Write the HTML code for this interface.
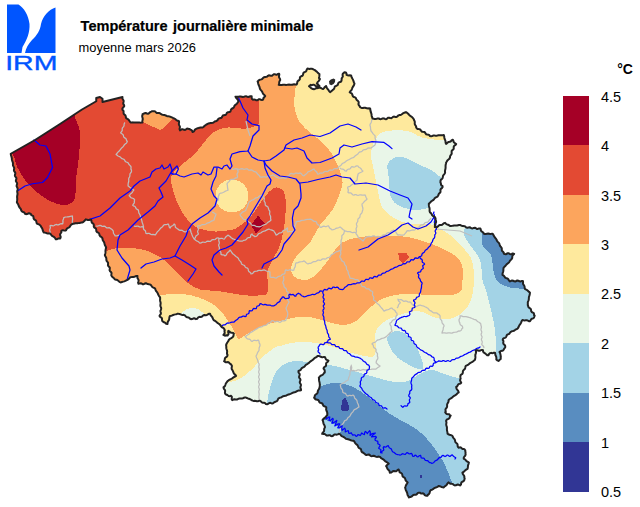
<!DOCTYPE html>
<html><head><meta charset="utf-8"><title>IRM</title>
<style>
html,body{margin:0;padding:0;background:#fff;}
body{width:640px;height:507px;overflow:hidden;position:relative;font-family:"Liberation Sans",sans-serif;}
svg text{font-family:"Liberation Sans",sans-serif;}
</style></head><body>
<svg width="640" height="507" viewBox="0 0 640 507" style="position:absolute;left:0;top:0">
<defs><clipPath id="be"><path d="M10.75,153.75 L35,140 L60,124 L82,109.5 L96.25,101.25 L96.25,98 L100,97 L102.5,98.75 L102.5,102 L122.5,97 L122.36,98.06 L122.62,99.05 L123.25,99.96 L123.69,100.92 L123.55,101.98 L123.23,103.07 L123.39,104.08 L124.11,105.03 L124.21,106.15 L123.62,107.07 L122.72,107.89 L122.33,108.86 L122.56,109.97 L123.41,110.72 L123.62,111.76 L123.53,112.94 L123.84,113.94 L124.68,114.69 L125.49,115.46 L125.8,116.45 L125.87,117.63 L126.48,118.45 L127.38,118.98 L128.3,119.48 L129,120.21 L129.54,121.11 L130.15,121.92 L131,122.59 L132.05,122.4 L133.09,122.37 L134.14,122.51 L135.18,122.61 L136.23,122.56 L137.27,122.43 L138.32,122.39 L139.36,122.5 L140.41,122.63 L141.45,122.6 L142.41,122.5 L142.31,121.41 L142.5,120.31 L142.75,119.22 L142.65,118.12 L142.28,117.03 L142.18,115.94 L142.57,114.84 L142.54,114.17 L143.59,113.81 L144.61,113.17 L145.67,113.02 L146.8,113.48 L147.91,113.74 L148.94,113.25 L149.65,112.69 L150.33,111.95 L151.43,111.59 L151.82,111.25 L152.9,111.33 L154.08,111.13 L155.09,111.39 L155.9,112.2 L156.75,112.93 L157.8,113.09 L158.93,113.01 L159.95,113.26 L160.82,113.93 L161.7,114.55 L162.71,114.81 L163.78,114.88 L164.78,115.08 L165.71,115.52 L166.63,115.97 L167.61,116.23 L168.62,116.36 L169.62,116.55 L170.57,116.89 L171.51,117.29 L172.45,117.59 L173.39,118.04 L174.35,118.47 L175.22,119.03 L176.03,119.71 L176.87,120.33 L177.84,120.74 L178.96,121.22 L179.08,122.32 L178.9,123.46 L178.91,124.58 L179.4,125.62 L179.91,126.66 L179.87,127.79 L179.5,128.95 L180.05,130.39 L180.99,129.77 L181.94,129.24 L182.97,129.36 L184.04,129.83 L185.07,129.9 L186.01,129.3 L186.94,128.64 L187.95,128.6 L189.02,129.06 L189.59,129.06 L190.48,129.67 L191.53,130.16 L192.19,130.94 L192.53,132.04 L193.58,131.64 L194.27,130.8 L194.85,129.82 L195.67,129.13 L196.69,128.7 L197.52,128.23 L198.51,128 L199.49,127.68 L200.48,127.54 L201.5,127.59 L202.57,127.59 L203.39,126.94 L204.14,126.21 L204.93,125.54 L205.82,124.98 L206.73,124.45 L207.52,123.85 L208.53,123.49 L209.55,123.18 L210.62,123.08 L211.7,123.09 L212.74,122.89 L213.7,122.42 L214.44,121.66 L215.4,121.23 L216.48,120.96 L217.36,120.4 L217.97,119.46 L218.63,118.58 L219.63,118.19 L220.8,118.06 L221.71,117.55 L222.26,116.52 L222.86,115.55 L223.85,115.16 L225.07,115.09 L226.02,114.63 L226.57,113.61 L227.15,112.61 L228.11,112.17 L229.3,112.06 L230.35,111.56 L230.72,110.52 L231.06,109.46 L231.8,108.75 L232.79,108.26 L233.62,107.63 L234.12,106.7 L234.55,105.73 L235.22,104.95 L236.08,104.35 L236.87,103.68 L237.47,102.85 L238.01,101.96 L238.64,101.33 L238.1,100.35 L237.54,99.39 L236.84,98.52 L236.08,97.7 L235.5,96.65 L236.55,96.77 L237.6,96.86 L238.65,96.76 L239.7,96.54 L240.75,96.48 L241.8,96.7 L242.85,96.9 L243.9,96.75 L244.95,96.37 L245.99,96.26 L247.05,96.62 L248.11,96.97 L249.15,96.76 L250.19,96.2 L251.66,96.29 L251.66,97.75 L251.97,99.06 L252.99,99.82 L253.97,99.4 L254.99,99.67 L256.02,100.22 L257.02,100.3 L258,99.76 L258.98,99.24 L259.98,99.31 L261.01,99.78 L262.02,99.99 L263.13,99.58 L263.38,98.24 L264.2,97.25 L265.21,96.11 L264.62,95.3 L263.84,94.62 L263.16,93.87 L262.7,92.97 L262.31,92.03 L261.78,91.17 L261.12,90.41 L260.47,89.64 L259.92,88.78 L259.69,87.66 L259.39,86.57 L258.93,85.54 L258.45,84.5 L258.15,83.41 L257.98,82.28 L257.58,81.38 L258.41,80.65 L259.27,79.98 L260.3,79.61 L261.41,79.38 L262.34,78.83 L263.08,77.93 L263.92,77.21 L265.04,77 L266.09,76.92 L267.05,76.62 L267.92,75.87 L268.83,75.35 L269.89,75.49 L270.99,75.85 L271.99,75.71 L272.85,74.97 L273.74,74.3 L274.76,74.27 L275.86,74.64 L276.89,74.67 L277.79,74.07 L279.13,73.67 L279.31,74.72 L279.03,75.86 L279,76.95 L279.48,77.94 L280.05,78.91 L280.22,80.06 L279.67,80.98 L279.28,81.94 L279.17,82.98 L279.13,84.03 L278.75,84.86 L279.78,84.99 L280.81,85.07 L281.84,84.97 L282.87,84.81 L283.89,84.75 L284.93,84.82 L285.96,84.91 L286.99,84.85 L288.01,84.67 L289.04,84.54 L290.07,84.63 L291.11,84.83 L292.14,84.81 L293.16,84.51 L294.18,84.26 L295.22,84.4 L296.48,84.63 L297.08,83.74 L297.24,82.6 L297.47,81.49 L298.24,80.7 L299.26,80.05 L299.84,79.14 L299.88,77.91 L300.24,76.83 L301.2,76.22 L302.35,75.78 L303.01,74.94 L303.2,73.72 L303.61,72.65 L304.59,72.11 L305.7,71.67 L306.37,70.84 L306.69,69.7 L307.43,68.6 L308.48,68.71 L309.54,68.93 L310.41,68.76 L311.65,68.79 L312.83,69.02 L313.87,69.63 L314.87,70.13 L315.8,70.87 L316.75,71.58 L317.55,72.44 L318.45,73.32 L319.42,73.99 L319.41,75 L319.37,76.01 L319.17,77.01 L318.93,78.07 L319.92,78.94 L319.36,80.08 L318.64,81.09 L317.58,82.15 L316.88,83.6 L318.05,84.32 L318.83,85.36 L319.57,86.17 L318.45,85.93 L317.2,86.24 L316.02,86.21 L315.01,85.44 L313.99,84.73 L312.78,84.85 L311.52,85.22 L310.79,84.69 L309.04,86.27 L310.26,87.24 L311.06,88.02 L312.01,88.54 L312.95,89.12 L313.96,89.21 L314.97,88.91 L315.88,88.29 L316.96,88.15 L318.08,88.09 L318.92,87.7 L320.02,87.81 L321.07,88.06 L322.02,88.57 L323.09,89.09 L323.83,88.33 L324.47,87.47 L325.17,86.67 L326.03,85.99 L326.42,87.04 L326.93,88.04 L327.55,88.96 L328.43,89.92 L329.11,91.05 L330.08,92.16 L330.98,91.46 L331.8,90.85 L332.51,90.13 L333.37,89.53 L334.05,88.79 L334.4,87.8 L334.74,86.74 L335.51,86.08 L336.56,85.71 L337.48,85.2 L337.96,84.25 L338.29,83.14 L338.96,82.39 L340.06,82.05 L341.09,81.5 L341.53,80.49 L341.61,79.46 L341.67,78.32 L342.42,77.27 L342.88,76.18 L342.55,75.03 L342.8,73.76 L343.69,72.91 L344.39,72.32 L345.91,72.52 L346.54,73.69 L346.51,74.9 L347.6,75.32 L348.73,75.4 L349.88,75.29 L351.14,75.44 L351.48,76.63 L351.89,77.8 L352.49,78.88 L353.1,79.96 L353.52,81.16 L353.89,82.38 L354.45,83.48 L354.13,84.72 L353.58,85.87 L352.84,86.9 L352.25,87.91 L351.94,89.09 L351.45,90.15 L350.52,90.95 L349.7,92.24 L350.59,92.89 L351.63,93.43 L352.28,94.28 L352.51,95.46 L352.93,96.49 L353.93,97.08 L355.2,97.37 L355.95,98.26 L356.38,99.54 L357.06,100.15 L358.02,101.02 L358.71,101.98 L358.64,103.19 L358.5,104.43 L359.04,105.44 L359.91,106.34 L360.03,107.16 L361,107.65 L361.97,108.02 L362.98,107.98 L364.01,107.76 L365.02,107.76 L366,108.06 L366.98,108.36 L367.99,108.44 L369,108.37 L370.13,108.47 L370.3,109.51 L370.42,110.57 L370.65,111.6 L371.02,112.6 L371.36,113.6 L371.56,114.64 L371.66,115.7 L371.86,116.73 L372.27,117.72 L372.5,118.55 L373.54,118.63 L374.58,118.92 L375.62,119.02 L376.65,118.75 L377.69,118.41 L378.73,118.51 L379.77,118.97 L380.81,119.18 L381.85,118.81 L382.88,118.31 L383.92,118.38 L384.96,118.97 L386.11,119.27 L387.07,118.63 L387.99,117.83 L389.05,117.68 L390.23,118.07 L391.34,118.13 L392.29,117.46 L393.22,116.72 L394.29,116.61 L395.46,116.92 L396.54,116.88 L397.52,116.28 L398.3,115.48 L399.29,115.11 L400.4,114.96 L401.39,114.59 L402.23,113.91 L403.08,113.25 L404.06,112.83 L405.09,112.54 L405.91,112.11 L406.76,112.69 L407.62,113.27 L408.38,113.96 L409.08,114.73 L409.8,115.46 L410.62,116.08 L411.49,116.65 L412.28,117.3 L412.96,118.09 L413.57,118.8 L413.89,119.75 L414.38,120.66 L414.75,121.6 L414.79,122.63 L414.73,123.68 L414.98,124.65 L415.6,125.53 L416.15,126.43 L416.11,127.32 L416.71,128.29 L417.51,128.95 L418.63,129.09 L419.76,129.2 L420.56,129.86 L421.11,130.91 L421.84,131.68 L422.94,131.85 L424.11,131.89 L424.97,132.45 L425.55,133.47 L426.24,134.31 L427.27,134.58 L428.42,134.66 L429.33,135.13 L430,136.03 L431.08,136.29 L432.13,136.03 L433.16,135.56 L434.21,135.43 L435.29,135.64 L436.36,135.76 L437.41,135.56 L438.45,135.27 L439.51,135.17 L440.58,135.24 L441.64,135.27 L442.7,135.14 L443.82,134.98 L444.1,135.95 L444.26,136.94 L444.39,137.94 L444.65,138.91 L445.05,139.85 L445.42,140.79 L445.57,141.79 L445.6,142.82 L446.11,143.94 L446.91,143.18 L447.7,142.41 L448.71,142.01 L449.85,141.84 L450.82,141.38 L451.53,140.46 L452.85,139.7 L453.39,140.87 L453.75,142.2 L454.78,142.95 L456.17,143.97 L455.66,144.84 L454.67,145.46 L453.87,146.18 L453.69,147.22 L453.75,148.38 L453.39,149.33 L452.5,150 L451.71,150.93 L451.6,152.08 L451.73,153.31 L451.36,154.38 L450.58,155.31 L450.06,156.33 L449.99,157.49 L449.52,158.48 L448.77,159.25 L447.91,159.93 L447.21,160.73 L446.67,161.67 L446.13,162.51 L445.98,163.51 L445.75,164.49 L445.59,165.49 L445.57,166.5 L445.59,167.51 L445.51,168.51 L445.28,169.5 L445.05,170.49 L445,171.49 L445.1,172.55 L444.74,173.51 L444.12,174.33 L443.42,175.12 L442.97,176.03 L442.83,177.1 L442.6,178.12 L441.95,178.93 L441.09,179.63 L440.54,180.5 L440.49,181.61 L440.39,182.22 L440.86,183.21 L440.97,184.45 L441.47,185.42 L442.55,186.02 L442.58,187.21 L441.89,188.1 L440.89,188.85 L440.41,189.83 L440.53,191.05 L440.45,192.19 L439.72,193.06 L438.84,193.86 L438.54,194.76 L438.06,195.76 L437.44,196.6 L436.52,197.11 L435.54,197.54 L434.75,198.19 L434.15,199.05 L433.49,199.86 L432.66,200.46 L431.77,200.99 L430.97,201.63 L430.28,202.39 L429.59,203.15 L428.83,203.74 L428.86,204.85 L428.95,205.95 L429.21,207.03 L429.5,208.11 L429.62,209.21 L429.57,210.33 L429.66,211.43 L430.03,212.47 L430.94,213.1 L431.58,213.99 L432.06,215.02 L432.79,215.83 L433.84,216.32 L434.8,216.9 L435.33,217.89 L435.59,218.7 L435.52,219.8 L436,220.97 L436.14,222.09 L435.51,223.13 L434.85,224.16 L434.96,225.28 L435.49,226.45 L434.81,227.07 L436.05,227.15 L437.21,227.06 L438.06,226.29 L438.85,225.36 L439.87,224.95 L441.07,224.95 L442.15,224.68 L443.01,223.93 L443.89,223.2 L445.08,222.86 L445.92,223.73 L446.91,224.35 L448.03,224.75 L449.08,225.27 L450,226 L451.01,226.01 L452.01,225.88 L453,225.66 L453.99,225.49 L455,225.46 L456.01,225.49 L457.01,225.42 L458,225.19 L458.98,224.94 L460.04,224.89 L461.03,225.49 L462.07,225.93 L463.23,226.02 L464.39,226.13 L465.39,226.7 L466.32,227.47 L467.47,227.78 L468.56,227.39 L469.63,227.25 L470.63,227.74 L471.62,228.37 L472.67,228.4 L473.77,227.9 L474.85,227.69 L475.85,228.21 L476.83,228.9 L477.88,228.96 L478.98,228.46 L480.41,228.44 L480.75,229.49 L480.95,230.64 L481.58,231.47 L482.59,232.02 L483.44,232.68 L483.75,233.6 L484.84,234 L485.94,233.99 L487.03,233.66 L488.12,233.52 L489.22,233.71 L490.31,233.91 L491.41,233.86 L492.56,233.71 L493.18,234.55 L493.67,235.47 L494.15,236.4 L494.74,237.26 L495.42,238.05 L496.06,238.87 L496.57,239.79 L497.01,240.74 L497.58,241.61 L498.32,242.37 L499.03,243.15 L499.5,244.08 L499.81,245.08 L500.17,246.08 L500.9,246.92 L501.59,247.77 L501.82,248.83 L501.79,249.99 L502.13,250.99 L503.01,251.77 L503.79,252.58 L503.75,253.53 L504.75,254.12 L505.75,254.26 L506.75,253.76 L507.75,253.24 L508.75,253.36 L509.75,253.96 L510.75,254.28 L511.75,253.93 L512.75,253.39 L514.14,253.92 L513.21,254.75 L512.45,255.67 L512.29,256.84 L512.2,258.04 L511.64,259.04 L510.87,259.88 L510.11,260.59 L509.55,261.5 L508.96,262.38 L508.18,263.07 L507.32,263.69 L506.56,264.41 L505.92,265.24 L505.27,266.07 L504.53,266.8 L503.7,267.49 L503.46,268.55 L503.38,269.64 L503.34,270.74 L503.13,271.8 L502.75,272.84 L502.49,273.9 L502.51,274.99 L503.49,275.47 L504.26,276.21 L504.87,277.17 L505.63,277.93 L506.69,278.3 L507.76,278.68 L508.47,279.5 L508.96,280.59 L510,281.45 L511.04,280.94 L512.08,280.48 L513.12,280.71 L514.17,281.34 L515.21,281.52 L516.25,281 L517.29,280.49 L518.33,280.67 L519.38,281.28 L520.42,281.48 L521.46,281.05 L522.89,280.88 L523.1,281.88 L522.98,282.98 L523.09,284.02 L523.65,284.91 L524.28,285.77 L524.6,286.74 L524.65,287.79 L524.87,288.92 L525.78,289.45 L526.73,289.92 L527.58,290.52 L528.33,291.25 L529.1,291.97 L529.93,292.49 L529.85,293.55 L529.69,294.6 L529.38,295.63 L529.05,296.64 L528.87,297.69 L528.84,298.77 L528.72,299.83 L528.33,300.83 L527.9,301.83 L527.76,302.89 L527.88,303.99 L527.76,304.82 L528.09,305.84 L528.35,306.9 L528.99,307.7 L529.98,308.27 L530.77,308.96 L531.06,310.01 L531.19,311.16 L531.76,312.01 L532.81,312.54 L533.72,313.15 L534.05,314.17 L534.11,315.37 L534.65,315.65 L534.3,316.72 L533.92,317.77 L533.09,318.38 L531.99,318.7 L531.11,319.25 L530.63,320.2 L529.96,321.32 L528.89,321.15 L527.87,320.6 L526.83,320.27 L525.72,320.37 L524.62,320.49 L523.55,320.3 L522.43,319.96 L521.86,320.79 L521.46,321.73 L521.09,322.68 L520.59,323.55 L519.98,324.37 L519.41,325.2 L518.95,326.09 L518.56,327.03 L518.11,327.94 L517.51,328.77 L516.5,329.09 L515.57,329.57 L514.73,330.23 L513.85,330.83 L512.84,331.14 L511.76,331.34 L510.83,331.81 L510.09,332.59 L509.52,333.52 L508.57,334.07 L507.49,334.49 L506.74,335.24 L506.38,336.38 L505.86,337.36 L504.84,337.84 L503.68,338.18 L502.95,338.95 L502.69,339.93 L503.38,340.77 L503.39,341.86 L503.2,343.03 L503.53,344.01 L504.4,344.78 L505.12,345.61 L505.25,346.66 L505.2,347.5 L504.28,348.38 L503.74,349.64 L502.82,350.65 L501.59,350.84 L500.46,351.25 L499.51,352 L500.11,353.1 L500.39,354.33 L500.67,355.49 L500.68,356.66 L500.76,357.84 L500.65,359.06 L499.49,359.93 L498.53,360.95 L497.38,360.35 L496.31,359.51 L496.4,358.32 L496.31,357.15 L495.9,356.03 L495.4,355.09 L495.28,354.02 L495.02,352.7 L494.02,352.64 L492.99,352.97 L491.97,353.2 L491.14,352.85 L489.91,353.19 L489.06,353.94 L488.44,355.21 L487.19,355.16 L486.19,354.25 L485.48,353.73 L484.65,353.02 L483.63,352.41 L483.1,351.52 L483,350.3 L482,349.91 L481,350.14 L480,350.66 L479,350.82 L478,350.46 L477,350.08 L475.73,350.37 L475.99,351.48 L476.05,352.56 L475.73,353.61 L475.37,354.65 L475.3,355.72 L475.4,356.81 L475.37,357.88 L475.14,358.94 L474.94,359.91 L474.06,360.53 L473.23,361.24 L472.36,361.89 L471.4,362.41 L470.43,362.9 L469.55,363.53 L468.76,364.28 L467.9,364.95 L466.89,365.39 L465.79,365.89 L465.38,366.89 L465.19,368.02 L464.77,369.02 L463.94,369.8 L463.14,370.6 L462.85,371.67 L462.82,372.88 L462.36,373.85 L461.36,374.55 L460.53,375.34 L460.37,376.48 L460.45,377.41 L460.63,378.41 L460.25,379.53 L460.07,380.61 L460.58,381.54 L461.24,382.77 L460.46,383.57 L459.24,383.9 L458.2,384.41 L457.61,385.44 L457.07,386.51 L456.2,386.9 L456.31,387.99 L456.66,388.96 L457.33,389.77 L458.02,390.58 L458.44,391.51 L458.71,392.45 L457.82,392.99 L457.05,393.71 L456.31,394.46 L455.48,395.08 L454.57,395.61 L453.68,396.16 L452.89,396.84 L452.13,397.57 L451.32,398.22 L450.41,398.74 L449.49,399.25 L448.66,399.97 L448.58,401 L448.39,401.99 L447.92,402.89 L447.35,403.77 L447.07,404.74 L447.12,405.8 L447.1,406.84 L446.62,407.75 L445.87,408.57 L445.45,409.49 L445.56,410.57 L445.73,411.67 L445.19,412.18 L445.85,413.34 L446.74,414.11 L448.05,414.16 L449.28,414.36 L450.06,415.32 L450.66,415.66 L450.03,416.46 L449.71,417.57 L449.19,418.48 L448.25,418.96 L447.2,419.35 L446.47,420.04 L446.04,421 L446.45,422.02 L446.39,423.11 L446.19,424.21 L446.29,425.27 L446.66,426.31 L446.93,427.35 L446.94,428.43 L446.9,429.51 L447.02,430.58 L447.28,431.62 L447.49,432.67 L447.52,433.71 L448.46,434.28 L449.46,434.74 L450.52,435.05 L451.56,435.41 L452.52,435.99 L452.83,436.97 L453.31,437.85 L454,438.62 L454.67,439.41 L455.03,440.36 L455.19,441.42 L455.56,442.36 L456.33,443.08 L457.17,443.77 L457.59,444.69 L457.62,445.82 L457.83,446.85 L458.71,447.67 L459.85,447.35 L460.86,447.55 L461.73,448.34 L462.62,449.03 L463.52,448.89 L464.64,449.49 L465.27,450.39 L465.34,451.62 L465.54,452.33 L465.49,453.49 L465.6,454.71 L465.16,455.73 L464.33,456.61 L463.81,457.59 L463.74,458.76 L464.74,459.17 L465.51,459.87 L466.18,460.72 L466.97,461.4 L467.9,461.89 L468.88,462.53 L468.64,463.56 L468.28,464.57 L468.01,465.6 L467.9,466.66 L467.81,467.73 L467.55,468.82 L466.63,469.33 L465.75,469.89 L464.98,470.6 L464.26,471.37 L463.43,472 L462.43,472.53 L462.67,473.64 L463.3,474.6 L464.03,475.51 L464.36,476.59 L464.34,477.81 L464.7,478.51 L464.41,479.56 L464.11,480.6 L463.37,481.29 L462.3,481.72 L461.46,482.33 L461.14,483.35 L460.97,484.49 L460,485.47 L458.96,484.89 L457.92,484.46 L456.88,484.76 L455.83,485.36 L454.79,485.45 L453.77,484.96 L452.95,484.1 L451.82,483.86 L450.61,483.78 L449.63,483.25 L448.65,482.4 L447.83,483.01 L447.27,483.87 L446.74,484.77 L446.02,485.48 L445.16,486.05 L444.35,486.67 L443.77,487.42 L442.73,487.27 L441.72,487.01 L440.75,486.6 L439.78,486.2 L438.72,485.94 L437.81,486.56 L436.87,487.11 L435.84,487.49 L434.8,487.85 L433.86,488.42 L433.01,489.14 L432.07,489.69 L430.95,489.97 L430.15,490.84 L429.78,491.97 L429.56,493.18 L428.86,494.11 L427.81,494.84 L427.67,495.65 L426.51,495.68 L425.41,495.59 L424.59,494.89 L423.91,493.9 L423.02,493.37 L421.85,493.43 L420.71,493.42 L420.12,492.77 L418.93,492.63 L417.92,492.88 L417.17,493.72 L416.43,494.56 L415.44,494.87 L414.3,494.84 L413.28,495.06 L412.46,495.74 L411.67,496.5 L410.73,496.9 L409.66,497.03 L408.98,497.41 L408.46,496.47 L407.87,495.55 L407.49,494.55 L407.28,493.49 L407,492.45 L406.54,491.48 L406.04,490.53 L405.66,489.53 L405.4,488.49 L405.11,487.55 L405.53,486.52 L405.88,485.44 L406.4,484.45 L407.09,483.55 L407.67,482.38 L406.93,481.66 L406.12,480.98 L405.57,480.12 L405.28,479.09 L404.89,478.12 L404.1,477.43 L403.14,476.86 L402.51,476.06 L402.32,474.95 L402.07,473.89 L401.31,473.18 L400.24,472.68 L399.49,471.96 L399.3,470.86 L398.61,469.52 L397.67,469.89 L396.86,470.75 L395.98,471.34 L394.91,471.29 L393.79,471.03 L392.8,471.26 L391.96,471.98 L391.09,472.62 L389.79,472.63 L389.62,471.46 L389.12,470.48 L388.26,469.73 L387.49,468.92 L387.05,467.91 L386.7,466.85 L386.1,466.12 L386.88,465.2 L387.75,464.39 L388.75,463.75 L388.02,463.05 L387.2,462.47 L386.33,461.95 L385.5,461.39 L384.75,460.71 L384.04,459.98 L383.26,459.35 L382.37,458.86 L381.48,458.37 L380.72,457.71 L380.02,456.87 L378.96,456.6 L377.86,456.71 L376.74,456.89 L375.69,456.63 L374.68,456.03 L373.62,455.75 L372.49,456.05 L371.41,456.2 L370.48,455.79 L369.65,454.99 L368.74,454.49 L367.67,454.64 L366.55,454.94 L365.58,454.69 L364.75,453.89 L364.18,453.43 L363.33,452.76 L362.22,452.29 L361.51,451.52 L361.27,450.4 L360.97,449.32 L360.19,448.6 L359.11,448.05 L358.36,447.23 L357.96,446.13 L357.45,445.12 L356.59,444.39 L355.69,443.7 L355.02,442.82 L354.5,441.81 L353.79,440.86 L352.79,440.7 L351.78,440.54 L350.82,440.24 L349.88,439.85 L348.94,439.49 L347.95,439.26 L346.95,439.11 L345.93,438.85 L345.1,438.12 L344.28,437.36 L343.33,436.8 L342.28,436.39 L341.35,435.8 L340.61,434.93 L339.84,434.11 L338.73,433.68 L337.87,434.34 L336.91,434.64 L335.82,434.5 L334.75,434.43 L333.84,434.93 L333.03,435.74 L332.11,436.2 L330.99,436.04 L330.05,435.25 L328.95,435.19 L327.73,435.58 L326.64,435.49 L325.7,434.69 L324.74,434 L323.61,434.04 L322.16,433.87 L322.59,432.79 L323.51,431.9 L324.1,430.88 L324.14,429.66 L324.29,428.47 L324.92,427.53 L324.85,426.36 L324.43,425.31 L323.83,424.32 L323.42,423.26 L323.23,422.14 L322.98,421.03 L322.53,420.03 L323.16,419.23 L323.86,418.5 L324.65,417.86 L325.44,417.22 L326.13,416.48 L326.73,415.66 L327.34,415.03 L327.27,413.93 L327.26,412.82 L327,411.76 L326.49,410.75 L326.15,409.7 L326.24,408.57 L326.24,407.23 L325.32,406.64 L324.18,406.29 L323.32,405.63 L322.85,404.53 L322.31,403.51 L321.29,403.03 L320.07,402.77 L319.26,402.05 L318.86,400.84 L318.23,399.97 L317.2,399.67 L316.02,399.57 L315.15,399.05 L314.61,398.04 L314.13,397.78 L314.58,396.82 L314.79,395.68 L315.31,394.77 L316.24,394.16 L317.13,393.53 L317.69,392.57 L317.75,391.35 L318.13,390.25 L318.81,389.27 L319.34,388.23 L319.6,387.09 L319.87,386.02 L319.77,384.95 L319.76,383.86 L319.63,382.8 L319.37,381.75 L319.11,380.7 L319,379.63 L319,378.55 L318.84,377.61 L319.52,376.87 L320.2,376.11 L321.01,375.52 L321.95,375.09 L322.83,374.59 L323.49,373.82 L324.06,372.92 L324.7,372.6 L324.77,371.19 L324.53,369.88 L323.56,368.64 L323.86,367.55 L324.8,366.81 L325.79,366.09 L326.12,365.01 L326.08,363.72 L326.51,362.71 L327.58,362.03 L328.41,360.65 L327.34,360.05 L326.15,359.55 L325.53,358.56 L325.06,357.2 L324,356.91 L322.84,357.14 L321.71,357.21 L320.69,356.76 L319.69,356.19 L318.61,356.01 L317.55,356.07 L316.81,356.81 L315.89,357.33 L314.96,357.83 L314.14,358.48 L313.41,359.24 L312.64,359.95 L311.78,360.53 L310.88,361.08 L310.05,361.71 L309.3,362.44 L308.54,363.17 L307.69,363.77 L306.75,364.27 L305.89,364.87 L305.2,365.68 L304.54,366.51 L303.68,367.12 L302.66,367.53 L301.77,368.09 L301.16,369 L300.6,369.95 L299.72,370.54 L298.51,371.03 L298.43,372.06 L298.94,373.01 L299.6,373.94 L299.73,374.94 L299.3,376.02 L299.04,377.07 L299.47,378.04 L300.22,378.95 L300.51,379.95 L300.12,381 L299.73,382.05 L299.94,383.04 L300.58,383.98 L300.96,384.95 L300.75,385.98 L300.4,387.03 L300.46,388.03 L300.92,389 L301.08,390.29 L299.87,390.45 L298.61,390.47 L297.45,390.87 L296.54,391.49 L295.56,391.95 L294.5,392.2 L293.45,392.49 L292.48,392.94 L291.53,393.46 L290.54,393.9 L289.5,394.19 L288.46,394.49 L287.48,394.94 L286.46,395.46 L285.4,395.85 L284.26,396 L283.14,396.21 L282.14,396.76 L281.16,397.41 L280.12,397.62 L279.14,398.06 L278.31,398.66 L277.83,399.61 L277.42,400.63 L276.68,401.32 L275.6,401.67 L274.92,402 L273.97,402.47 L273.06,403.21 L272.08,403.49 L270.99,403.13 L269.91,402.82 L268.94,403.17 L268.04,403.93 L267.09,404.34 L265.95,404.09 L265.2,403.11 L264.13,402.73 L262.89,402.73 L261.83,402.33 L261.02,401.46 L260,400.67 L258.96,400.87 L257.92,401.19 L256.88,401.22 L255.83,400.97 L254.79,400.81 L253.79,400.92 L252.74,400.65 L251.76,400.24 L250.85,399.68 L249.92,399.15 L248.93,398.76 L247.91,398.44 L246.92,398.04 L246,397.49 L244.94,397.55 L243.91,397.8 L242.91,398.2 L241.88,398.46 L240.8,398.44 L239.72,398.4 L238.7,398.69 L237.73,399.25 L236.72,399.56 L235.61,399.4 L234.5,399.21 L233.49,399.56 L232.22,400.1 L231.69,399.16 L231.78,397.99 L231.86,396.82 L231.06,395.72 L229.93,396.13 L228.9,396.12 L227.99,395.43 L227.1,394.72 L226.36,394.89 L225.43,394 L224.91,392.99 L225.06,391.78 L225.12,390.59 L224.56,389.59 L223.79,388.65 L223.51,387.36 L224.38,386.62 L225.06,385.78 L225.41,384.75 L225.73,383.69 L226.3,382.79 L227.02,381.96 L227.57,381.13 L228.45,380.46 L229.33,379.8 L230.3,379.27 L231.31,378.83 L232.28,378.31 L233.16,377.66 L234.05,377 L235.02,376.49 L236.1,375.93 L235.56,375.07 L234.82,374.34 L234.06,373.64 L233.53,372.76 L233.22,371.74 L232.82,370.93 L232.33,369.95 L231.72,369 L231.57,367.95 L231.85,366.81 L231.89,365.73 L231.28,364.77 L230.83,364.19 L229.84,363.68 L229.04,362.68 L228.08,362.09 L226.84,362.22 L225.63,362.29 L224.71,361.6 L224.09,361.21 L224.66,360.38 L224.77,359.25 L224.98,358.19 L225.68,357.44 L226.62,356.83 L227.28,356.05 L227.55,354.99 L227.08,354.04 L226.98,353.03 L227.12,351.99 L227.12,350.97 L226.84,349.99 L226.48,349.02 L226.31,348.02 L226.3,347 L226.27,345.98 L226.07,345.04 L226.49,343.97 L227.01,342.95 L227.67,342.01 L228.31,341.06 L228.77,340.03 L229.5,339.23 L230.33,338.56 L231.3,338.06 L232.23,337.51 L232.95,336.71 L233.49,336 L233.53,334.88 L233.85,333.58 L232.93,332.88 L231.72,332.7 L230.53,332.5 L229.68,331.67 L228.32,330.89 L228.12,331.9 L228.44,333.05 L228.53,334.13 L227.92,335.04 L227.61,335.59 L226.34,335.32 L224.9,335.71 L223.4,334.91 L224.2,334.05 L224.71,333.11 L224.61,332.03 L224.42,330.92 L224.77,330.23 L224.3,329.13 L223.67,328.21 L222.69,327.62 L221.71,327.04 L220.99,326.2 L220.39,325.23 L219.65,324.42 L218.74,323.76 L217.84,323.23 L217.04,322.55 L216.29,321.82 L215.48,321.17 L214.58,320.62 L213.66,320.06 L213.15,319.15 L212.74,318.18 L212.27,317.24 L211.63,316.42 L210.92,315.63 L210.4,314.73 L209.97,313.65 L208.85,313.8 L207.85,314.37 L206.88,315.04 L205.77,315.23 L204.56,315.08 L203.46,315.31 L202.55,316.12 L201.76,316.85 L200.73,317 L199.58,316.85 L198.59,317.11 L197.85,317.95 L197.13,318.82 L196,319.13 L195,318.53 L194,318.22 L193,318.57 L192,319.12 L191,319.19 L190.01,318.73 L189.32,317.86 L188.33,317.48 L187.21,317.33 L186.26,316.89 L185.53,316.09 L184.78,315.31 L183.78,314.84 L182.69,314.9 L181.63,314.77 L180.62,314.39 L179.61,314.03 L178.56,313.87 L177.52,313.81 L176.46,314.18 L175.36,314.39 L174.25,314.61 L173.2,314.99 L172.17,315.45 L171.11,315.79 L169.94,315.98 L169.51,316.91 L169.31,317.92 L169.24,318.96 L168.97,319.95 L168.39,320.83 L167.82,321.71 L167.63,322.72 L167.43,323.97 L166.14,323.66 L165.08,322.66 L164.1,322.3 L163.08,321.65 L162.22,320.91 L162.01,319.79 L162,318.56 L161.44,317.64 L160.36,317.03 L159.47,315.91 L160.02,314.98 L160.74,314.07 L160.92,313.07 L160.58,311.99 L160.4,310.93 L160.77,310.02 L161.16,308.94 L161.18,307.89 L160.75,306.88 L160.38,305.86 L160.42,304.8 L160.63,303.74 L160.62,302.69 L160.35,301.67 L160.1,300.64 L160.07,299.59 L160.15,298.54 L160.1,297.44 L159.52,296.61 L158.92,295.8 L158.42,294.92 L158.02,293.99 L157.61,293.06 L157.06,292.22 L156.41,291.42 L155.85,290.58 L155.49,289.63 L155.13,288.59 L154.34,287.98 L153.38,287.58 L152.46,287.12 L151.79,286.36 L151.25,285.42 L150.54,284.71 L149.53,284.37 L148.75,284.17 L147.75,284.08 L146.75,283.55 L145.75,283.23 L144.75,283.56 L143.75,284.15 L142.75,284.24 L141.75,283.72 L140.75,283.23 L139.75,283.39 L138.51,283.79 L138.07,282.72 L138.39,281.54 L138.67,280.36 L138.24,279.29 L137.55,278.26 L137.36,277.16 L137.48,275.88 L136.37,275.9 L135.35,276.37 L134.33,276.86 L133.24,277.01 L132.12,276.97 L131.04,277.12 L130,277.5 L129.26,278.43 L128.36,279.2 L127.47,279.91 L126.39,280.35 L125.36,280.9 L124.29,281.35 L123.15,281.63 L122.03,281.94 L121.01,282.48 L119.96,282.11 L119.04,281.51 L118.25,280.7 L117.36,280.04 L116.26,279.75 L115.15,279.47 L114.3,278.76 L113.61,277.78 L112.86,277.38 L111.99,276.48 L111.31,275.52 L111.37,274.31 L111.55,273.06 L111,272.05 L110,271.19 L109.55,270.15 L109.77,268.97 L109.83,267.83 L109.21,266.93 L108.32,266.11 L107.93,265.13 L108.07,263.98 L108.07,262.87 L107.51,261.94 L106.76,261.08 L106.38,260.09 L106.37,258.99 L106.25,257.92 L105.78,256.96 L105.2,256.05 L104.83,254.98 L105.16,253.93 L105.43,252.88 L105.48,251.79 L105.49,250.7 L105.62,249.63 L105.88,248.58 L106.11,247.46 L105.65,246.51 L105.13,245.59 L104.71,244.63 L104.48,243.6 L104.23,242.57 L103.75,241.63 L103.11,240.76 L102.66,239.81 L102.53,238.73 L102.12,237.67 L101.32,236.91 L100.3,236.31 L99.61,235.46 L99.36,234.29 L98.99,233.21 L98.05,232.55 L96.93,232.02 L96.34,231.1 L96.23,229.88 L96.03,228.85 L95.21,228.12 L94.24,227.47 L93.79,226.56 L93.84,225.4 L93.72,224.32 L93.03,223.53 L92.1,222.86 L91.54,222 L91.45,220.91 L91.03,219.65 L90.02,219.66 L88.99,219.93 L87.97,219.99 L86.99,219.69 L85.89,219.37 L85.02,220.13 L84.3,221.06 L83.47,221.86 L82.5,222.5 L81.49,222.51 L80.49,222.68 L79.51,222.93 L78.51,223.11 L77.5,223.16 L76.49,223.15 L75.49,223.26 L74.5,223.53 L73.52,223.79 L72.57,223.83 L71.69,224.35 L70.89,224.97 L70.3,225.8 L69.79,226.72 L69.07,227.42 L68.1,227.85 L67.17,228.33 L66.58,229.16 L66.06,230.28 L65.09,230.64 L64,230.42 L62.91,230.14 L61.93,230.44 L61.23,231.03 L61.39,232.18 L60.74,233.22 L60.05,234.25 L60.15,235.39 L60.65,236.58 L60.58,237.7 L59.99,238.61 L58.97,238.35 L57.99,238.67 L57.02,239.21 L55.76,239.27 L55.17,238.22 L54.49,237.26 L53.49,236.68 L52.43,236.16 L51.61,235.37 L50.93,234.42 L50.03,233.6 L48.96,233.55 L47.89,233.46 L46.86,233.19 L45.85,232.85 L44.81,232.61 L43.74,232.5 L43.25,231.62 L42.89,230.68 L42.63,229.69 L42.33,228.72 L41.83,227.84 L41.24,226.99 L40.89,226.16 L40.16,225.39 L39.41,224.63 L38.45,224.19 L37.29,223.89 L36.63,223.03 L36.39,221.88 L36.1,220.78 L35.27,220.02 L34.21,219.42 L33.61,218.52 L33.52,217.29 L33.23,216.18 L32.28,215.51 L31.19,214.92 L31,214.14 L30,213.54 L29,213.22 L28,213.56 L27,214.11 L26,214.18 L25.01,213.73 L24.48,212.7 L23.53,212.11 L22.42,211.69 L21.61,210.95 L21.07,209.96 L20.73,208.94 L20.07,208.09 L19.36,207.26 L18.87,206.32 L18.54,205.29 L18.12,204.31 L17.54,203.42 L16.91,202.5 L16.95,201.45 L17.11,200.42 L17.24,199.38 L17.22,198.34 L17.11,197.29 L17.12,196.24 L17.32,195.21 L17.52,194.17 L17.49,193.13 L17.25,192.08 L17.2,191.03 L17.51,190 L17.69,188.96 L17.49,187.97 L16.94,187.02 L16.58,186.05 L16.75,185.02 L17.13,183.95 L17.05,182.95 L16.41,182.01 L15.86,181.06 L15.96,180.06 L16.38,178.89 L16.34,177.82 L15.6,176.88 L14.9,175.94 L14.93,174.85 L15.32,173.69 L15.24,172.62 L14.55,171.67 L13.95,170.71 L13.95,169.63 L14.2,168.49 L14.07,167.43 L13.53,166.52 L13.05,165.59 L12.93,164.59 L12.99,163.55 L12.88,162.54 L12.52,161.6 L12.13,160.65 L11.91,159.67 L11.84,158.66 L11.72,157.65 L11.46,156.68 L11.12,155.73 L10.86,154.76Z"/></clipPath></defs>
<g clip-path="url(#be)" shape-rendering="crispEdges">
<rect x="0" y="60" width="560" height="450" fill="#FEE99D"/>
<path d="M460,130 C460.00,130.00 451.25,138.25 445,139.5 C438.75,140.75 428.75,138.92 422.5,137.5 C416.25,136.08 413.33,132.08 407.5,131 C401.67,129.92 392.50,130.17 387.5,131 C382.50,131.83 380.25,132.42 377.5,136 C374.75,139.58 371.62,146.83 371,152.5 C370.38,158.17 372.46,162.92 373.75,170 C375.04,177.08 377.29,188.75 378.75,195 C380.21,201.25 379.79,203.54 382.5,207.5 C385.21,211.46 390.42,216.04 395,218.75 C399.58,221.46 404.58,222.92 410,223.75 C415.42,224.58 422.92,223.12 427.5,223.75 C432.08,224.38 433.75,225.62 437.5,227.5 C441.25,229.38 445.42,231.25 450,235 C454.58,238.75 461.25,245.42 465,250 C468.75,254.58 471.04,256.67 472.5,262.5 C473.96,268.33 474.17,278.33 473.75,285 C473.33,291.67 471.88,297.92 470,302.5 C468.12,307.08 465.83,309.79 462.5,312.5 C459.17,315.21 454.58,317.92 450,318.75 C445.42,319.58 439.58,318.62 435,317.5 C430.42,316.38 426.67,312.92 422.5,312 C418.33,311.08 415.00,311.08 410,312 C405.00,312.92 397.50,315.33 392.5,317.5 C387.50,319.67 382.92,322.08 380,325 C377.08,327.92 375.67,331.25 375,335 C374.33,338.75 376.21,344.00 376,347.5 C375.79,351.00 375.58,354.58 373.75,356 C371.92,357.42 368.96,356.58 365,356 C361.04,355.42 355.83,354.17 350,352.5 C344.17,350.83 336.25,347.67 330,346 C323.75,344.33 318.33,343.08 312.5,342.5 C306.67,341.92 300.42,341.92 295,342.5 C289.58,343.08 283.33,345.17 280,346 C276.67,346.83 277.92,345.67 275,347.5 C272.08,349.33 266.25,353.46 262.5,357 C258.75,360.54 256.25,365.12 252.5,368.75 C248.75,372.38 244.58,376.25 240,378.75 C235.42,381.25 229.17,381.88 225,383.75 C220.83,385.62 215.00,390.00 215,390 L215,520 L560,520 L560,130 L460,130Z" fill="#E9F6E8"/>
<path d="M181,314 C181.00,314.00 184.75,309.62 187.5,308.75 C190.25,307.88 194.58,307.71 197.5,308.75 C200.42,309.79 205.00,315.00 205,315 L205,322 L181,322 L181,314Z" fill="#E9F6E8"/>
<path d="M387.5,165 C388.12,161.88 390.00,160.08 392.5,158.75 C395.00,157.42 398.33,156.17 402.5,157 C406.67,157.83 412.50,161.42 417.5,163.75 C422.50,166.08 428.58,168.71 432.5,171 C436.42,173.29 438.08,175.67 441,177.5 C443.92,179.33 450.00,182.00 450,182 L450,200 C450.00,200.00 435.83,205.83 430,207.5 C424.17,209.17 420.00,210.25 415,210 C410.00,209.75 404.00,208.08 400,206 C396.00,203.92 392.88,202.25 391,197.5 C389.12,192.75 389.33,182.92 388.75,177.5 C388.17,172.08 386.88,168.12 387.5,165Z" fill="#A3D3E6"/>
<path d="M467,222 C467.00,222.00 463.25,229.92 463.75,233.75 C464.25,237.58 467.29,240.62 470,245 C472.71,249.38 477.92,254.17 480,260 C482.08,265.83 481.50,275.00 482.5,280 C483.50,285.00 484.58,285.00 486,290 C487.42,295.00 489.50,303.33 491,310 C492.50,316.67 494.17,323.17 495,330 C495.83,336.83 495.83,345.17 496,351 C496.17,356.83 496.00,365.00 496,365 L560,365 L560,222 L467,222Z" fill="#A3D3E6"/>
<path d="M387.5,337.5 C388.33,334.75 392.08,331.62 395,331 C397.92,330.38 401.67,331.42 405,333.75 C408.33,336.08 412.50,341.46 415,345 C417.50,348.54 418.58,351.50 420,355 C421.42,358.50 423.33,363.58 423.5,366 C423.67,368.42 422.92,369.42 421,369.5 C419.08,369.58 415.92,368.50 412,366.5 C408.08,364.50 401.17,360.67 397.5,357.5 C393.83,354.33 391.67,350.83 390,347.5 C388.33,344.17 386.67,340.25 387.5,337.5Z" fill="#A3D3E6"/>
<path d="M470,380 C470.00,380.00 465.33,379.67 462,379 C458.67,378.33 454.08,377.25 450,376 C445.92,374.75 440.83,372.50 437.5,371.5 C434.17,370.50 432.92,369.62 430,370 C427.08,370.38 423.33,372.08 420,373.75 C416.67,375.42 413.33,378.54 410,380 C406.67,381.46 404.17,382.50 400,382.5 C395.83,382.50 390.42,381.25 385,380 C379.58,378.75 373.33,376.67 367.5,375 C361.67,373.33 356.25,371.67 350,370 C343.75,368.33 336.67,366.25 330,365 C323.33,363.75 315.83,363.17 310,362.5 C304.17,361.83 299.58,360.58 295,361 C290.42,361.42 285.83,362.88 282.5,365 C279.17,367.12 277.08,370.00 275,373.75 C272.92,377.50 271.25,383.12 270,387.5 C268.75,391.88 268.17,396.25 267.5,400 C266.83,403.75 266.00,410.00 266,410 L266,520 L560,520 L560,380 L470,380Z" fill="#A3D3E6"/>
<path d="M482.5,228 C482.50,228.00 481.08,240.50 482.5,245 C483.92,249.50 489.12,250.42 491,255 C492.88,259.58 492.46,267.92 493.75,272.5 C495.04,277.08 496.04,280.00 498.75,282.5 C501.46,285.00 505.83,286.46 510,287.5 C514.17,288.54 520.42,288.50 523.75,288.75 C527.08,289.00 530.00,289.00 530,289 L540,260 L500,225 L482.5,228Z" fill="#598DC0"/>
<path d="M315,388 C315.00,388.00 316.25,388.25 318.75,387.5 C321.25,386.75 325.62,384.08 330,383.5 C334.38,382.92 340.00,382.75 345,384 C350.00,385.25 355.00,387.92 360,391 C365.00,394.08 370.00,398.67 375,402.5 C380.00,406.33 385.00,410.67 390,414 C395.00,417.33 400.42,419.83 405,422.5 C409.58,425.17 413.75,427.17 417.5,430 C421.25,432.83 424.17,435.75 427.5,439.5 C430.83,443.25 434.58,448.25 437.5,452.5 C440.42,456.75 442.92,460.83 445,465 C447.08,469.17 448.75,474.38 450,477.5 C451.25,480.62 451.67,481.67 452.5,483.75 C453.33,485.83 455.00,490.00 455,490 L455,520 L300,520 L300,388 L315,388Z" fill="#598DC0"/>
<path d="M320,419 C320.00,419.00 323.71,419.21 326,420 C328.29,420.79 331.25,422.29 333.75,423.75 C336.25,425.21 339.96,427.08 341,428.75 C342.04,430.42 340.50,431.88 340,433.75 C339.50,435.62 338.00,440.00 338,440 L320,440 L320,419Z" fill="#A3D3E6"/>
<path d="M342.3,400.5 C342.72,398.55 343.33,398.80 344,398.6 C344.67,398.40 345.47,397.82 346.3,399.3 C347.13,400.78 348.80,405.58 349,407.5 C349.20,409.42 348.75,410.33 347.5,410.8 C346.25,411.27 342.37,412.02 341.5,410.3 C340.63,408.58 341.88,402.45 342.3,400.5Z" fill="#313695"/>
<path d="M420,475 L421.5,475 L421.5,477.5 L420,477.5Z" fill="#313695"/>
<path d="M296,85 C296.00,85.00 294.67,93.33 294.5,97.5 C294.33,101.67 294.08,105.83 295,110 C295.92,114.17 297.50,118.75 300,122.5 C302.50,126.25 306.25,129.17 310,132.5 C313.75,135.83 319.00,139.17 322.5,142.5 C326.00,145.83 328.50,148.75 331,152.5 C333.50,156.25 335.83,161.25 337.5,165 C339.17,168.75 340.17,172.08 341,175 C341.83,177.92 342.67,179.58 342.5,182.5 C342.33,185.42 341.67,187.92 340,192.5 C338.33,197.08 335.83,204.58 332.5,210 C329.17,215.42 323.75,219.58 320,225 C316.25,230.42 313.75,237.50 310,242.5 C306.25,247.50 300.67,250.83 297.5,255 C294.33,259.17 291.62,264.00 291,267.5 C290.38,271.00 291.83,273.92 293.75,276 C295.67,278.08 299.38,279.75 302.5,280 C305.62,280.25 309.17,279.58 312.5,277.5 C315.83,275.42 319.58,270.83 322.5,267.5 C325.42,264.17 327.92,260.42 330,257.5 C332.08,254.58 332.92,252.50 335,250 C337.08,247.50 338.75,244.58 342.5,242.5 C346.25,240.42 350.83,238.67 357.5,237.5 C364.17,236.33 374.17,235.58 382.5,235.5 C390.83,235.42 400.00,235.83 407.5,237 C415.00,238.17 421.25,240.33 427.5,242.5 C433.75,244.67 440.00,247.50 445,250 C450.00,252.50 454.58,254.58 457.5,257.5 C460.42,260.42 461.67,263.75 462.5,267.5 C463.33,271.25 462.75,276.08 462.5,280 C462.25,283.92 463.08,288.50 461,291 C458.92,293.50 456.00,294.33 450,295 C444.00,295.67 430.83,295.21 425,295 C419.17,294.79 420.00,293.75 415,293.75 C410.00,293.75 400.83,293.96 395,295 C389.17,296.04 384.58,297.50 380,300 C375.42,302.50 371.25,306.67 367.5,310 C363.75,313.33 361.25,317.50 357.5,320 C353.75,322.50 349.58,324.58 345,325 C340.42,325.42 335.42,323.75 330,322.5 C324.58,321.25 318.33,318.33 312.5,317.5 C306.67,316.67 300.42,316.92 295,317.5 C289.58,318.08 285.42,319.58 280,321 C274.58,322.42 267.92,323.88 262.5,326 C257.08,328.12 251.46,331.62 247.5,333.75 C243.54,335.88 240.83,338.96 238.75,338.75 C236.67,338.54 236.88,335.62 235,332.5 C233.12,329.38 230.42,324.17 227.5,320 C224.58,315.83 221.25,310.83 217.5,307.5 C213.75,304.17 209.58,302.08 205,300 C200.42,297.92 195.00,296.04 190,295 C185.00,293.96 179.83,293.75 175,293.75 C170.17,293.75 165.17,294.79 161,295 C156.83,295.21 150.00,295.00 150,295 L0,295 L0,60 L296,60 L296,85Z" fill="#FCA55D"/>
<ellipse cx="232" cy="196" rx="16.5" ry="16.5" fill="#FEE99D"/>
<path d="M245,128.75 C240.42,129.00 232.50,127.08 227.5,127.5 C222.50,127.92 218.58,129.17 215,131.25 C211.42,133.33 208.50,137.29 206,140 C203.50,142.71 202.04,145.00 200,147.5 C197.96,150.00 195.83,152.92 193.75,155 C191.67,157.08 190.00,157.92 187.5,160 C185.00,162.08 181.25,165.21 178.75,167.5 C176.25,169.79 173.79,171.67 172.5,173.75 C171.21,175.83 171.00,177.71 171,180 C171.00,182.29 171.67,184.17 172.5,187.5 C173.33,190.83 174.33,195.83 176,200 C177.67,204.17 180.17,208.75 182.5,212.5 C184.83,216.25 187.08,219.79 190,222.5 C192.92,225.21 195.83,227.25 200,228.75 C204.17,230.25 210.00,231.29 215,231.5 C220.00,231.71 226.25,230.67 230,230 C233.75,229.33 234.17,229.58 237.5,227.5 C240.83,225.42 245.83,222.08 250,217.5 C254.17,212.92 259.17,204.42 262.5,200 C265.83,195.58 267.50,193.08 270,191 C272.50,188.92 275.00,186.83 277.5,187.5 C280.00,188.17 283.75,189.58 285,195 C286.25,200.42 285.83,211.67 285,220 C284.17,228.33 282.08,238.33 280,245 C277.92,251.67 274.58,255.42 272.5,260 C270.42,264.58 268.33,267.08 267.5,272.5 C266.67,277.92 269.17,288.67 267.5,292.5 C265.83,296.33 261.67,295.08 257.5,295.5 C253.33,295.92 249.17,295.75 242.5,295 C235.83,294.25 224.58,291.92 217.5,291 C210.42,290.08 205.00,290.92 200,289.5 C195.00,288.08 191.67,285.75 187.5,282.5 C183.33,279.25 179.17,273.96 175,270 C170.83,266.04 167.08,261.92 162.5,258.75 C157.92,255.58 152.50,252.79 147.5,251 C142.50,249.21 137.50,248.50 132.5,248 C127.50,247.50 121.92,247.50 117.5,248 C113.08,248.50 108.92,250.33 106,251 C103.08,251.67 100.00,252.00 100,252 L0,252 L0,60 L250,60 L250,92 L258.75,92 C258.75,92.00 259.38,116.83 258.75,122.5 C258.12,128.17 257.29,124.96 255,126 C252.71,127.04 249.58,128.50 245,128.75Z" fill="#E34A33"/>
<path d="M143.75,122.5 C146.67,123.54 154.38,127.71 157.5,128.75 C160.62,129.79 160.00,130.42 162.5,128.75 C165.00,127.08 172.50,118.75 172.5,118.75 L172.5,105 L140,105 L140,122.5 C140.00,122.50 140.83,121.46 143.75,122.5Z" fill="#FCA55D"/>
<path d="M75,110 C75.00,110.00 74.17,113.25 75,117 C75.83,120.75 79.33,126.17 80,132.5 C80.67,138.83 79.67,147.08 79,155 C78.33,162.92 76.67,172.92 76,180 C75.33,187.08 76.00,193.54 75,197.5 C74.00,201.46 72.08,202.50 70,203.75 C67.92,205.00 65.83,205.46 62.5,205 C59.17,204.54 54.17,203.08 50,201 C45.83,198.92 41.67,196.00 37.5,192.5 C33.33,189.00 28.33,184.17 25,180 C21.67,175.83 19.38,171.50 17.5,167.5 C15.62,163.50 15.00,158.92 13.75,156 C12.50,153.08 10.00,150.00 10,150 L0,150 L0,100 L75,100 L75,110Z" fill="#A50026"/>
<path d="M258,215.75 L265,223.75 L256,233.75 L251,225Z" fill="#A50026"/>
<path d="M398.2,253.5 L406.5,253 L409,257 L403,263.2 L399.2,259.2Z" fill="#E34A33"/>
</g>
<g clip-path="url(#be)" fill="none" stroke="#BEBEBE" stroke-width="1.25" stroke-linejoin="round">
<path d="M125,122.5 L124.33,123.39 L124.07,124.45 L124.06,125.6 L123.66,126.61 L122.83,127.43 L122.23,128.35 L122.22,129.51 L122.2,130.66 L121.56,131.56 L120.7,132.72 L121.3,133.53 L122.31,134.04 L123.13,134.7 L123.45,135.71 L123.66,136.8 L124.3,137.59 L125.26,138.13 L126.02,138.83 L126.37,139.83 L126.68,140.85 L127.34,141.36 L126.92,142.35 L126.33,143.19 L125.48,143.81 L124.66,144.44 L124.04,145.25 L123.51,146.15 L122.86,146.94 L122.08,147.61 L121.33,148.31 L120.7,149.11 L120.11,149.95 L119.44,150.73 L118.69,151.43 L117.96,152.14 L117.32,152.94 L116.74,153.79 L116.06,154.41 L116.85,155.1 L117.66,155.76 L118.61,156.22 L119.6,156.59 L120.46,157.18 L121.17,158 L121.98,158.67 L123.01,158.99 L123.99,159.42 L124.67,160.2 L125.16,161.2 L125.88,161.93 L126.95,162.27 L127.94,162.68 L128.54,163.55 L128.99,164.61 L129.66,165.11 L130.49,165.95 L131.06,166.87 L131,167.99 L130.9,169.12 L131.38,169.93 L131.52,171.08 L131.27,172.1 L130.55,172.98 L129.98,173.9 L129.89,174.97 L129.88,176.08 L129.5,177.06 L128.88,177.99 L128.68,178.98 L128.74,180 L128.78,181.02 L128.59,182.01 L128.3,182.99 L128.14,183.99 L128.12,185 L128.05,185.92 L128.89,186.53 L129.68,187.19 L130.52,187.78 L131.44,188.27 L132.35,188.77 L133.17,189.39 L133.92,189.93 L133.19,190.78 L132.64,191.77 L132,192.69 L131.11,193.4 L130.23,194.12 L129.69,195.12 L129.17,195.75 L129.96,196.42 L130.58,197.34 L131.38,198 L132.47,198.23 L133.52,198.51 L134.23,199.3 L134.68,199.87 L134.28,200.87 L134.39,202.08 L134.2,203.16 L133.38,203.99 L132.7,205.3 L133.58,205.85 L134.64,206.22 L135.39,206.9 L135.81,207.91 L136.32,208.82 L137.19,209.38 L138.22,209.92 L138.59,210.92 L138.66,212.03 L138.91,213.08 L139.49,214 L140.04,214.94 L140.32,215.97 L140.53,217.04 L140.9,218.03 L141.35,219.04 L141.7,220.08 L141.91,221.17 L142.14,222.25 L142.5,223.29 L142.91,224.31 L143.21,225.37 L143.37,226.46 L143.75,227.5"/>
<path d="M50,233.75 L50.29,232.64 L50.11,231.54 L49.7,230.43 L49.75,229.32 L50.25,228.21 L50.36,227.11 L49.98,225.87 L50.96,225.38 L52.07,225.55 L53.2,225.84 L54.21,225.52 L55.16,224.79 L56.18,224.48 L57.31,224.77 L58.41,224.91 L59.39,224.42 L60.36,223.8 L61.41,223.7 L62.67,223.78 L62.99,222.76 L62.89,221.66 L62.88,220.58 L63.25,219.57 L63.7,218.57 L63.77,217.63 L64.83,217.23 L65.92,217 L67.04,216.96 L68.14,216.85 L69.22,216.58 L70.3,216.29 L71.4,216.14 L72.43,216 L72.42,217.11 L72.56,218.21 L72.62,219.32 L72.48,220.43 L72.34,221.54 L72.46,222.64 L72.5,223.75"/>
<path d="M96,226 L97.02,226.2 L98.01,226.02 L98.98,225.56 L99.97,225.34 L101,225.61 L101.88,226.28 L102.94,226.41 L104.09,226.22 L105.11,226.48 L105.96,227.28 L106.87,227.88 L107.97,227.85 L109.12,227.69 L110.08,228.11 L110.93,228.92 L111.65,229.15 L112.48,229.98 L113.2,230.86 L113.37,231.97 L113.45,233.11 L113.98,234.07 L114.73,234.93 L114.96,235.79 L116.01,235.84 L117.04,235.79 L118.01,235.46 L118.98,235.08 L120,235"/>
<path d="M134,226 L134.97,226.39 L135.98,226.4 L137.02,226.13 L138.04,226.1 L139,226.57 L139.96,227.05 L140.97,227 L142.03,226.62 L143.37,226.82 L143.41,228.04 L143.6,229.2 L144.45,230.02 L145.38,230.81 L145.67,231.92 L145.93,233.34 L146.93,233.53 L148.03,233.3 L149.08,233.31 L150.01,233.83 L150.94,234.39 L151.96,234.53 L153.03,234.42 L154.05,234.55 L155,235 L155.81,234.28 L156.4,233.38 L156.91,232.43 L157.58,231.6 L158.37,230.86 L159.07,230.07 L159.72,229.29 L160.37,228.51 L161.1,227.81 L161.89,227.18 L162.64,226.5 L163.29,225.72 L163.97,224.89 L164.98,224.67 L166.02,224.59 L167.04,224.4 L168.02,223.99 L168.69,224.9 L169.05,225.98 L169.28,227.11 L170.11,228.11 L170.63,227.03 L171.41,226.21 L172.54,225.74 L173.46,225.06 L174.09,223.94 L174.96,224.78 L175.18,226.01 L175.42,227.23 L176.34,228.04 L177.14,228.59 L178.07,229.13 L178.9,229.96 L179.89,230.33 L181.04,230.21 L182.12,230.3 L183.02,230.94 L183.9,231.63 L184.94,231.85 L185.89,231.86 L186.65,231.2 L187.6,230.81 L188.52,230.37 L189.26,229.69 L190.1,228.97 L190.46,229.96 L190.65,231.01 L190.89,232.04 L191.3,233.01 L191.74,233.97 L192.06,234.97 L192.46,236.02 L192.92,237.04 L193.52,237.99 L194.06,238.91 L194.87,239.55 L195.64,240.25 L196.51,240.8 L197.48,241.21 L198.39,241.69 L199.14,242.43 L200.05,243.24 L201.03,242.94 L201.96,242.4 L202.94,242.11 L204.01,242.25 L205.07,242.36 L206.03,241.96 L206.94,241.3 L207.93,241.05 L209.02,241.31 L210.16,241.42 L211.04,240.73 L211.86,239.88 L212.9,239.6 L214.09,239.74 L215.14,239.5 L215.97,238.68 L216.86,238 L218.02,237.9 L218.95,238.47 L219.96,238.59 L221.02,238.38 L222.05,238.38 L223.01,238.78 L224.15,239.15 L224.89,238.29 L225.51,237.31 L226.31,236.51 L227.25,235.85 L227.93,235.09 L228.84,235.66 L229.73,236.26 L230.52,236.97 L231.29,237.73 L232.13,238.38 L233.02,238.95 L234.03,239.24 L235,239.67 L235.96,240.12 L236.98,240.4 L238.04,240.55 L239,240.85 L240,241.06 L241,241.24 L242,241.08 L242.89,240.8 L243.75,240.28 L244.8,240.09 L245.8,239.81 L246.55,239.09 L247.21,238.21 L248.09,237.72 L249.2,237.64 L250.36,237.24 L250.66,236 L250.96,234.75 L252.03,233.97 L252.45,235.05 L253.33,235.67 L254.45,236.05 L254.78,236.72 L255.9,236.42 L256.9,235.95 L257.54,235.05 L258.15,234.1 L259.06,233.53 L260.07,233.16 L261.09,232.75 L261.97,232.05 L262.92,231.49 L263.99,231.21 L265.06,230.91 L266.02,230.39 L266.96,229.81 L267.97,229.37 L268.98,229.04 L269.97,229.48 L271,229.79 L272.03,230.11 L273.01,230.57 L273.91,231.04 L274.42,232.04 L275.08,232.96 L275.63,233.93 L276.03,235.06 L277.1,234.69 L278,234 L278.88,233.26 L279.96,232.91 L281.13,232.76 L282.14,232.17 L282.69,231.15 L283.44,230.39 L284.56,230.07 L285.6,229.67 L286.23,228.75 L287.39,227.9 L287.55,228.93 L287.27,230.06 L287.33,231.1 L288,232 L288.93,231.43 L289.96,231.44 L291.04,231.75 L292.06,231.68 L292.99,231.14 L293.68,230.93 L294.08,229.97 L294.65,229.04 L294.89,228.05 L294.84,226.99 L294.9,225.95 L295.27,224.99 L295.69,224.03 L295.89,223.03 L295.99,221.95 L296.97,221.64 L298,221.48 L299.02,221.33 L300.01,221.06 L300.99,220.7 L301.98,220.41 L303,220.25 L304.02,220.1 L305.01,219.89 L305.99,219.58 L306.98,219.36 L308,219.35 L309.03,219.35 L309.96,219.09 L311.09,219.32 L312.09,219.83 L312.92,220.65 L313.87,221.26 L315.04,221.41 L316.29,221.77 L316.7,222.8 L317.03,223.91 L317.82,224.65 L318.9,225.14 L319.63,225.93 L320.02,227.13 L321.06,227.32 L322.02,226.88 L322.96,226.27 L323.96,226.16 L325.02,226.52 L326.05,226.65 L327.01,226.22 L328.22,225.78 L328.96,226.64 L329.46,227.74 L330.23,228.57 L331.27,229.13 L331.92,229.79 L333,229.63 L334.06,229.42 L335.02,228.94 L335.96,228.4 L336.97,228.04 L338.02,227.8 L339.03,227.47 L340,227 L340.89,227.6 L341.69,228.3 L342.45,229.06 L343.28,229.73 L344.2,230.3 L345.02,230.87 L346,231.17 L346.97,231.52 L347.98,231.67 L349.02,231.61 L350.04,231.68 L351,232.09 L351.95,232.55 L352.97,232.62 L354.04,232.42 L355.06,232.49 L356,233"/>
<path d="M194,239 L194.89,238.35 L195.44,237.42 L195.79,236.33 L196.44,235.48 L197.46,234.93 L198.4,234 L198.05,233 L197.61,232 L197.7,231 L198.22,230 L198.44,229 L198.05,228 L197.6,227 L197.93,225.71 L199.05,225.96 L200.1,225.88 L201,225.25 L201.91,224.65 L202.96,224.57 L204.05,224.71 L205.07,224.51 L205.98,223.95 L206.89,223.28 L207.99,222.97 L209.08,222.67 L210.04,222.07 L210.95,221.39 L211.96,220.92 L213.03,220.56 L214.09,220.03 L214.32,218.99 L214.58,217.97 L214.97,216.99 L215.41,216.03 L215.73,215.02 L215.98,214.05 L214.95,213.6 L214.01,212.98 L213.07,212.35 L212,212"/>
<path d="M232,169 L233,169.28 L234,169.19 L235,168.8 L236,168.65 L237,169 L237.62,168.96 L237.65,169.97 L238.03,171.03 L238.08,172.05 L237.54,173 L237.01,173.95 L237.09,174.97 L237.5,176.03 L237.52,177.05 L236.99,177.97 L235.89,177.89 L234.95,178.4 L234.08,179.13 L233.08,179.43 L231.97,179.33 L230.91,179.42 L229.95,179.96 L229.58,180.94 L228.94,181.7 L228.13,182.35 L227.45,183.09 L226.97,184.01 L227.29,184.98 L227.43,185.98 L227.45,187.01 L227.56,188.02 L227.82,189 L228.04,190.07 L227.02,190.54 L225.97,190.94 L224.96,191.43 L224.02,192.05 L223.04,192.51 L222,192.79 L220.94,193.05 L219.97,193.54 L219.17,194.03 L219.01,195.03 L218.57,195.98 L218.22,196.95 L218.27,197.99 L218.45,199.05 L218.21,200.14 L217.28,200.76 L216.54,201.5 L216.26,202.56 L216.05,203.65 L215.35,204.43 L214.34,204.99 L214,206"/>
<path d="M246,121 L248,130 L250,136"/>
<path d="M238,169 L239,169.28 L240,169.19 L241,168.8 L242,168.65 L243,169 L244,169.38 L245,169.25 L246.06,168.75 L247.1,168.85 L247.99,169.53 L248.89,170.18 L249.95,170.2 L251.08,169.93 L252.09,170.14 L252.97,170.86 L253.75,171.33 L254.73,171.7 L255.78,171.96 L256.57,172.57 L257.14,173.48 L257.74,174.17 L258.65,175.01 L259.54,175.86 L260,176.96 L261,177.18 L262,177.13 L263,176.93 L264,176.86 L265,176.98 L266.03,177.09 L267.02,176.78 L267.99,176.38 L268.98,176.06 L270,175.86 L271.03,175.66 L272.01,175.33 L273.04,174.93 L274.05,175.51 L274.96,176.27 L275.92,176.93 L277.04,177.34 L278,177.78 L279,177.99 L280,178.25 L281,178.19 L282,177.82 L283,177.67 L284,177.98 L285,178.36 L286.18,178.18 L286.6,177 L287.35,176.15 L288.54,175.74 L289.5,175.1 L289.99,173.93 L290.96,173.46 L291.98,173.6 L293.03,174.01 L294.04,173.97 L294.99,173.43 L295.96,173.02 L296.98,173.15 L298.03,173.45 L299.03,173.38 L300.04,172.95 L300.96,173.38 L301.66,174.12 L302.3,174.93 L303.1,175.54 L303.97,175.97 L304.69,175.09 L305.59,174.39 L306.48,173.68 L307.23,172.83 L307.96,171.93 L308.97,171.45 L310.03,171.05 L311.04,170.57 L311.98,169.97 L312.95,169.4 L314,169 L314.56,169.92 L315.28,170.71 L316.12,171.41 L316.79,172.23 L317.25,173.23 L318.07,174.24 L319,173.71 L319.91,173.11 L320.95,172.93 L322.07,173.04 L323.1,172.82 L323.97,172.1 L324.88,171.5 L325.97,171.49 L327.11,171.67 L328.09,171.3 L328.93,170.48 L329.88,169.99 L331,170.11 L332.12,170.21 L333.06,169.7 L333.91,168.92 L334.9,168.58 L336.03,168.7 L337.1,168.64 L338.05,168.05 L338.6,167 L339.5,166.3 L340.53,165.73 L341.31,164.91 L341.94,163.91 L342.77,163.29 L343.72,162.86 L344.64,162.39 L345.46,161.76 L346.24,161.08 L347.1,160.5 L348.01,160.02 L349.04,159.58 L350,159.01 L350.96,158.41 L351.98,157.96 L353.05,157.59 L354.06,157.08 L354.79,156.21 L355.61,155.44 L356.61,154.91 L357.58,154.33 L358.29,153.44 L358.96,152.49 L359.95,151.9 L361.13,151.77 L362.11,151.21 L362.89,150.27 L363.84,149.68 L365.07,149.64 L366.12,149.41 L367.01,148.74 L367.88,148.02 L368.93,147.9 L370.08,148.14 L371.11,147.95 L371.98,147.21 L372.67,146.75 L373.48,146.11 L374.43,145.57 L375.04,144.78 L375.33,143.75 L375.69,143.04 L375.75,142.01 L375.92,140.97 L375.77,139.97 L375.37,139.01 L375.09,138.03 L375.09,137.01 L375.1,135.92 L374.41,135.1 L373.62,134.37 L372.92,133.56 L372.34,132.66 L371.74,131.78 L371.04,130.99 L370.76,130.01 L370.58,129.01 L370.53,128 L370.45,126.98 L370.21,125.99 L369.89,124.95 L370.28,123.95 L370.89,123.04 L371.4,122.08 L371.58,120.99 L371.75,119.9 L372.4,119"/>
<path d="M340,168 L340.87,168.76 L341.95,169.09 L343.14,169.23 L344.1,169.79 L344.88,170.74 L346.19,171.29 L346.79,170.32 L347.47,169.49 L348.51,169.19 L349.64,169.04 L350.47,168.41 L351.03,167.4 L351.93,166.58 L352.99,166.8 L354.06,167.05 L355.04,166.75 L355.96,166.12 L356.94,165.82 L358,166 L358.5,166.93 L359.31,167.55 L360.26,168.03 L361.02,168.7 L361.56,169.58 L362.15,170.42 L362.95,170.92 L362.06,171.7 L361.05,172.28 L359.96,172.74 L358.96,173.33 L358.04,174.01 L357.92,175.01 L357.67,176 L357.41,176.99 L357.27,177.99 L357.23,179.01 L357.08,180.08 L356.29,180.71 L355.46,181.32 L354.78,182.07 L354.23,182.94 L353.58,183.72 L352.7,184.28 L351.88,184.76 L350.95,185.39 L350.12,186.25 L349.11,186.71 L347.77,187 L347.63,188 L348.02,189 L348.41,190 L348.24,191 L347.88,192.25 L348.82,192.85 L350.07,192.87 L351.2,193.11 L352,194 L352.81,194.88 L354,195.13 L355,194.68 L356,194.69 L357,195.1 L358,195.33 L359,195.1 L360,194.77 L361,194.79 L362,195.07 L363,195.21 L364,195.06 L365.12,194.94 L365.59,195.95 L365.94,197.03 L366.41,198.05 L367.02,199.02 L366.35,199.78 L365.59,200.45 L364.81,201.09 L364.09,201.8 L363.45,202.59 L362.79,203.36 L362.03,203.99 L362.05,205.02 L362.21,206.02 L362.57,206.99 L362.86,207.97 L362.87,208.99 L362.8,209.9 L362.35,210.93 L362.19,212.09 L361.75,213.12 L360.87,213.93 L360.17,214.84 L360.03,216.02 L359.87,217.19 L359.09,218.05 L358.14,218.82 L357.78,219.89 L357.8,221.15 L357.35,222.03 L356.75,222.99 L356.39,223.96 L356.62,224.99 L356.98,226.03 L356.84,227.03 L356.32,227.99 L356.02,228.97 L356.2,229.99 L356.44,231.02 L356.3,232.02 L355.91,233.05 L356.3,234.1 L357.01,234.99 L357.66,235.92 L358.02,236.97 L358.76,237.76 L359.62,238.39 L360.54,238.95 L361.39,239.6 L362.16,240.35 L363.07,241.05 L363.63,240.22 L364.14,239.36 L364.73,238.55 L365.42,237.82 L366.02,237.13 L367.01,236.93 L367.98,236.62 L368.98,236.47 L370.01,236.56 L371.03,236.61 L372.01,236.33 L372.97,235.89 L374.04,235.76 L374.98,236.28 L375.94,236.69 L376.98,236.59 L378.06,236.33 L379.05,236.53 L380.08,237.16 L381.19,236.88 L381.98,235.96 L382.8,235.1 L383.95,234.91 L385.18,234.87 L386.1,234.21 L386.86,233.22 L387.86,232.72 L389.08,232.67 L390.15,232.31 L390.97,231.45 L391.86,230.72 L392.98,230.46 L393.81,230.15 L394.57,230.91 L395.45,231.57 L396.12,232.4 L396.63,233.37 L397.22,234.25 L398,235.02 L399,234.9 L400,234.93 L401,235.05 L402,235.09 L403,235.01 L403.93,234.95 L404.55,234.16 L405.24,233.43 L405.9,232.67 L406.41,231.81 L406.98,230.86 L407.98,230.74 L409.01,230.81 L410.03,230.78 L411,230.45 L411.96,230.04 L412.97,229.96 L414.1,230.15 L415.04,229.7 L415.71,228.84 L416.36,227.97 L417.32,227.55 L418.45,227.39 L419.35,226.89 L419.95,225.91 L420.68,225.11 L421.73,224.88 L422.88,224.82 L423.77,224.3 L424.41,223.35 L425.2,222.63 L426.27,222.45 L427.37,222.31 L428.22,221.71 L428.83,220.89 L429.44,219.85 L430.45,219.08 L431,218"/>
<path d="M262,195 L262.42,196.17 L263.3,197.02 L264.34,197.94 L264.34,198.97 L264.05,200.05 L264.14,201.06 L264.75,201.99 L265.26,202.93 L265.13,203.89 L265.38,205.06 L266.07,205.88 L267.16,206.37 L268,207.07 L268.32,208.17 L268.6,209.07 L269,210.03 L269.63,210.95 L269.86,211.94 L269.66,213.01 L269.6,214.06 L269.98,215.02 L270.47,215.96 L270.65,216.96 L270.57,218.01 L270.63,219.03 L270.97,219.96 L270.25,220.77 L269.39,221.4 L268.46,221.95 L267.61,222.59 L266.84,223.34 L266.04,224.08 L265.01,224.45 L263.97,224.78 L262.97,225.23 L262.03,225.78 L261.04,226.25 L259.99,226.54 L259.05,226.84 L258.01,226.68 L256.95,226.61 L255.96,226.29 L255.04,225.72 L254.07,225.31 L253,225.3 L251.77,225.23 L251.11,224.29 L250.63,223.17 L249.78,222.42 L248.6,222 L247.84,221.32 L247.08,220.33 L246.19,219.61 L244.98,219.54 L243.8,219.4 L242.96,218.59 L242.35,217.82 L241.7,216.9 L240.74,216.13 L240.24,215.13 L240.1,214.14 L241.03,213.69 L241.72,212.87 L242.43,212.07 L243.35,211.6 L244.37,211.26 L245.25,210.73 L245.97,209.99 L246.23,208.94 L246.71,207.99 L247.22,207.04 L247.57,206.03 L247.82,204.98 L248.17,203.97 L248.64,203 L249.05,202.08 L249.89,201.53 L250.71,200.93 L251.58,200.41 L252.52,200.03 L253.45,199.63 L254.28,199.05 L255.05,198.37 L255.92,197.85 L257.04,197.59 L258.11,197.23 L258.99,196.47 L259.86,195.72 L260.96,195.43 L262,195"/>
<path d="M219,239 L218.72,240 L218.81,241 L219.2,242 L219.35,243 L219,244 L218.62,245 L218.75,246 L219.25,247 L219.4,247.87 L219.3,249.01 L219.25,250.14 L219.82,251.06 L220.66,251.89 L221,252.89 L220.92,254.15 L221.82,254.86 L223.01,254.97 L224.16,255.17 L224.93,255.94 L225.94,255.33 L226.55,254.39 L227,253.31 L227.71,252.45 L228.65,251.78 L229.42,250.97 L230.02,249.99 L230.71,250.72 L231.25,251.56 L231.74,252.45 L232.33,253.26 L233.01,253.99 L233.89,254.6 L234.68,255.31 L235.45,256.06 L236.29,256.72 L237.2,257.29 L238.1,257.93 L238.57,258.86 L239.01,259.8 L239.64,260.62 L240.41,261.35 L241.02,262.18 L241.38,263.18 L241.83,264.22 L242.78,264.73 L243.85,265.11 L244.65,265.82 L245.2,266.84 L245.94,267.62 L247.05,267.96 L247.92,268.62 L248.28,269.62 L248.42,270.76 L248.98,271.63 L249.98,272.2 L250.8,272.9 L250.95,273.92 L252.21,273.75 L253.09,272.94 L253.83,271.91 L254.89,271.41 L256.03,271.25 L257.03,271.15 L257.99,270.68 L258.97,270.36 L259.99,270.41 L261.02,270.55 L262.02,270.42 L262.99,270.08 L264.05,269.85 L265.01,270.3 L265.97,270.77 L266.98,271.07 L268.02,271.28 L269.03,271.58 L269.99,272 L269.91,273 L269.95,274 L270.07,275 L270.11,276 L270,277.01 L270.98,277.3 L271.99,277.41 L273.02,277.38 L274.03,277.48 L274.99,277.87 L276.11,278.23 L277.04,277.58 L277.88,276.75 L278.91,276.32 L280.11,276.22 L281.14,275.78 L281.92,274.85 L282.82,274.14 L284.04,274.02 L284.9,273.2 L285.09,272.05 L285.13,270.81 L286,269.76 L287,270.28 L288,270.4 L289,269.97 L290,269.61 L291,269.79 L292,270.23 L293,270.32 L293.98,269.99 L294.01,268.92 L294.46,267.97 L295.03,267.05 L295.32,266.05 L295.37,264.98 L295.55,263.95 L295.99,262.97 L297.03,262.87 L298.02,262.58 L298.99,262.2 L299.98,261.91 L301,261.75 L302.02,261.58 L303.01,261.3 L304.04,260.95 L304.86,261.52 L305.59,262.21 L306.32,262.9 L307.16,263.46 L307.96,263.9 L308.94,263.47 L310.02,263.3 L311.08,263.1 L312.02,262.55 L312.91,261.88 L313.93,261.57 L315.08,261.58 L316.08,261.32 L316.98,260.68 L317.9,260.11 L318.96,260.11 L320.08,260.34 L321.08,260.09 L321.96,259.34 L322.89,258.82 L323.98,258.93 L325.1,259.14 L326.07,258.78 L326.94,258.02 L327.75,257.7 L328.89,257.33 L329.95,256.86 L330.62,255.91 L331.24,254.91 L332.19,254.31 L333.27,253.87 L334.07,253.17 L334.96,252.48 L335.93,251.98 L337.01,251.73 L338.06,251.42 L339.02,250.89 L339.96,250.34 L340.93,250 L341.05,249 L341.09,248 L341.01,247 L340.91,246 L340.93,245 L341.05,244 L341.12,243 L341.01,242 L341.03,240.98 L341.22,239.98 L341.61,239.02 L341.88,238.03 L341.84,237 L341.78,235.87 L342.5,234.94 L343.44,234.15 L343.98,233.11 L344.16,231.86 L345,231"/>
<path d="M284,276 L283.6,276.97 L283.57,277.98 L283.83,279.03 L283.84,280.04 L283.36,281 L282.86,281.95 L282.9,282.97 L283.24,283.86 L283.85,284.67 L283.96,285.77 L284.12,286.84 L284.81,287.61 L285.77,288.22 L286.34,289.05 L286.45,290.16 L286.71,291.29 L288.02,292 L288.19,293.06 L287.85,294.03 L287.29,294.96 L287.06,295.95 L287.2,297.01 L287.22,297.89 L287.56,298.97 L287.84,300.08 L288.4,301.05 L289.09,302.05 L288.6,303.05 L287.96,303.98 L287.41,304.95 L287.01,306 L286.58,307.04 L286.02,307.99 L286.26,309.03 L286.6,310.02 L287.06,310.98 L287.45,311.96 L287.65,313 L287.85,313.95 L287.6,314.98 L287.49,316.05 L287.17,317.06 L286.56,317.97 L286.07,318.91 L285.99,319.98 L285.1,320.63 L284.06,320.84 L282.92,320.75 L281.89,321.01 L281.04,321.77 L279.95,322.43 L278.99,321.99 L278.05,321.38 L277.04,321.28 L275.98,321.67 L274.94,321.82 L273.99,321.35 L273.05,320.76 L271.83,320.74 L271.24,321.72 L270.49,322.46 L269.45,322.74 L268.4,323.02 L267.61,323.7 L266.95,324.57 L266.09,325.23 L264.99,325.34 L263.93,325.55 L262.98,326.07 L262.05,326.63 L261.04,326.97 L259.98,327.19 L258.96,327.53 L258.01,328.01 L257.16,328.63 L256.24,329.14 L255.3,329.61 L254.41,330.16 L253.58,330.81 L252.73,331.43 L251.78,331.9 L250.82,332.33 L249.94,332.93 L249.24,333.76 L248.45,334.47 L247.46,334.95 L246.51,335.46 L245.8,336.3 L245.14,336.75 L245.98,337.31 L246.66,338.16 L247.44,338.82 L248.49,339.02 L249.57,339.16 L250.38,339.77 L251,340.72 L252.07,341.42 L253,340.83 L253.93,340.24 L254.96,340.26 L256.05,340.61 L257.07,340.56 L258.04,339.98 L258.86,340.82 L259.08,341.96 L259.21,343.15 L259.82,343.97 L260.03,345.03 L259.92,346.04 L259.47,347 L259.11,347.96 L259.07,348.98 L259.12,350.06 L258.62,351.06 L257.94,351.97 L257.39,352.95 L257.01,354.01 L256.59,355.04 L256.02,355.99 L256.3,357.03 L256.7,358.02 L257.18,358.98 L257.59,359.97 L257.85,361.01 L258.13,362.05 L258.59,363.01 L259.15,364 L259.14,365 L258.9,366 L258.76,367 L258.96,368 L259.26,369 L259.22,370 L258.84,371 L258.65,372 L258.94,373 L259.36,374 L259.29,375 L258.8,376 L258.57,377 L258.93,378 L259.4,379 L259.32,380 L258.79,381 L258.57,382 L258.94,383 L259.38,384 L259.28,385 L258.82,386 L258.64,387 L258.95,388 L259.29,389 L259.21,390 L258.87,391 L258.75,392 L258.97,393 L259.18,394 L259.13,395 L258.93,396 L258.86,397 L258.98,398 L259.1,399 L259.07,400 L258.96,401 L259,402"/>
<path d="M341,250 L340.6,250.97 L340.57,251.98 L340.83,253.03 L340.84,254.04 L340.36,255 L339.86,255.95 L339.9,256.97 L340.21,257.82 L341.01,258.61 L341.3,259.82 L341.8,260.85 L342.87,261.42 L343.91,262.01 L344.39,263.06 L344.65,264.13 L345.13,265.09 L345.96,265.92 L346.43,266.88 L346.44,268.02 L346.58,269.11 L347.18,270.03 L347.84,270.92 L348.15,271.95 L348.22,273.04 L348.5,274.06 L349.02,274.99 L349.47,275.96 L349.71,276.98 L349.98,278.09 L350.98,278.33 L352.01,278.47 L353.02,278.66 L354,278.99 L354.98,279.33 L355.98,279.56 L357.01,279.69 L358.1,279.93 L358.57,280.86 L359.01,281.8 L359.64,282.62 L360.4,283.35 L361.02,284.17 L361.38,285.17 L361.88,286.25 L362.86,286.55 L363.93,286.68 L364.85,287.11 L365.58,287.93 L366.37,288.62 L367.41,288.82 L368.53,288.86 L369.42,289.35 L370.1,290.26 L370.89,290.94 L371.93,291.01 L372.62,291.91 L372.73,292.94 L372.44,294.05 L372.49,295.09 L373.11,296 L373.7,296.92 L373.75,297.96 L373.55,299.05 L373.79,300.21 L374.79,300.71 L375.69,301.31 L376.3,302.2 L376.86,303.14 L377.66,303.84 L378.57,304.43 L379.35,305.15 L379.99,306.01 L380.58,306.91 L381.3,307.69 L382.06,308.45 L382.72,309.29 L383.3,310.19 L384.03,311.08 L385,310.62 L385.96,310.15 L386.98,309.83 L388.04,309.61 L389.04,309.24 L389.97,308.67 L390.93,308.19 L391.99,308.01 L392.54,308.89 L393.32,309.53 L394.28,310 L395.07,310.64 L395.55,311.6 L396.03,312.54 L396.82,312.96 L397.08,314.06 L396.97,315.07 L396.31,315.98 L395.77,316.91 L395.89,317.87 L395.39,319.01 L394.47,319.65 L393.25,319.93 L392.33,320.57 L391.81,321.68 L391.11,322.59 L389.99,323 L389.92,324.08 L390.33,325.04 L390.96,325.95 L391.24,326.94 L391.2,328.01 L391.27,329.06 L391.68,330.02 L392.11,331.11 L391.34,331.84 L390.45,332.45 L389.66,333.16 L389,334 L388.32,334.82 L387.53,335.53 L386.7,336.2 L385.97,336.93 L385.01,337.41 L384.04,337.84 L383,338.13 L381.96,338.38 L380.97,338.81 L380.04,339.36 L379.06,339.77 L377.96,339.94 L377.01,340.37 L376.26,341.1 L375.57,341.93 L374.69,342.46 L373.62,342.71 L372.66,343.14 L372,344 L372.89,344.64 L373.33,345.59 L373.47,346.73 L373.96,347.65 L374.93,348.24 L375.8,348.89 L376.15,349.96 L375.94,351.1 L376.24,352.09 L377.02,352.95 L377.54,353.89 L377.47,354.99 L377.38,356.1 L377.8,356.93 L377.86,358.07 L377.6,359.09 L376.95,359.98 L376.43,360.92 L376.27,361.98 L376.1,362.86 L376.88,363.49 L377.56,364.25 L378.32,364.91 L379.18,365.42 L380.06,366.08 L379.25,366.66 L378.38,367.17 L377.55,367.73 L376.79,368.38 L376,369.08 L375,369.14 L374,369.08 L372.99,369.07 L372,369.22 L371.01,369.44 L370.01,369.5 L369,369.36 L367.99,369.28 L367,369.51 L366.01,369.86 L365.01,369.9 L363.99,369.62 L362.98,369.48 L362,369.8 L361.02,370.27 L360.04,370.29 L358.98,369.95 L357.95,369.83 L356.99,370.3 L356.05,370.89 L355.04,370.94 L353.97,370.54 L352.95,370.44 L352.05,370.99 L351.45,370.06 L351.4,369.04 L351.71,367.96 L351.7,366.94 L351.18,366 L351.32,365.04 L351.08,366.02 L350.61,366.98 L350.41,367.97 L350.56,369 L350.65,370.02 L350.44,371.01 L350.12,371.99 L349.97,372.98 L350.01,374 L349.78,375.04 L349.38,376.01 L348.93,376.98 L348.6,377.98 L348.37,379.01 L348.05,380.08 L347.12,380.56 L346.17,381.03 L345.3,381.61 L344.49,382.3 L343.63,382.89 L342.65,383.3 L341.67,383.72 L340.85,384.39 L340.19,384.92 L340.6,385.93 L340.7,387.07 L341.01,388.12 L341.78,388.97 L342.48,389.85 L342.65,390.97 L342.76,392.29 L343.67,392.87 L344.84,393.11 L345.75,393.69 L346.27,394.75 L346.89,395.68 L348.02,396.1 L348.92,395.42 L349.94,395.3 L351.04,395.59 L352.08,395.58 L352.97,395.02 L353.85,395.67 L354.31,396.6 L354.56,397.68 L355.06,398.58 L355.88,399.27 L356.62,400.01 L357.09,400.97 L357.2,402.05 L357.54,403.04 L358.05,403.98 L358.45,404.96 L358.68,406 L358.95,406.92 L357.98,407.56 L357.04,408.26 L356.03,408.85 L354.97,409.34 L353.93,409.95 L353.42,410.91 L352.86,411.83 L352.12,412.62 L351.36,413.4 L350.81,414.33 L350.39,415.35 L349.78,416.23 L348.91,416.91 L348.04,417.54 L347.5,418.5 L346.99,419.49 L346.12,420.12 L345.04,420.54 L344.27,421.27 L343.87,422.37 L343.4,423.16 L342.62,424.01 L341.8,424.84 L341.6,425.92 L341.71,427.13 L341.31,428.16 L340.32,428.91 L339.65,429.82 L339.55,431.03 L339,432"/>
<path d="M397,308 L397.85,307.15 L398.26,306.04 L398.51,304.83 L399.27,303.92 L400.31,302.85 L399.74,301.88 L398.75,301.13 L398.16,300.17 L397.95,299.16 L398.86,299.76 L399.98,299.71 L401.13,299.61 L402.08,300.1 L402.91,300.93 L403.94,301.36 L405.01,301.1 L406.06,300.97 L407.02,301.36 L407.96,301.91 L408.96,302.08 L410.05,301.95 L410.89,302.54 L411.48,303.38 L412.03,304.26 L412.75,304.96 L413.61,305.54 L414.39,306.19 L414.99,306.97 L416.04,306.69 L417.02,306.26 L417.98,305.75 L418.97,305.32 L419.99,305.02 L420.97,305.42 L421.99,305.69 L423.03,305.91 L424.03,306.25 L424.98,306.74 L425.9,307.12 L426.87,307.69 L427.85,308.26 L428.6,309.1 L429.27,310.05 L430.19,310.69 L431.3,311.1 L432.07,311.74 L432.96,312.44 L433.89,312.94 L434.99,312.9 L436.11,312.76 L437.07,313.18 L437.92,313.98 L438.61,314.13 L439.41,314.98 L440.09,315.86 L440.13,316.96 L439.99,318.11 L440.38,319.1 L441.17,319.91 L441.82,320.84 L441.94,322.03 L442.2,323.15 L442.96,324.02 L443.74,324.88 L444.11,326.03 L443.56,326.95 L443.27,327.95 L443.19,329.01 L443.01,330.04 L442.6,331.01 L442.18,331.97 L442,333.08 L443,332.95 L444,332.91 L445,332.99 L446,333.08 L447,333.07 L448,332.95 L449,332.89 L450,332.98 L451,333.13 L452.03,333.11 L452.98,332.66 L453.95,332.31 L455,332.25 L456.06,332.23 L457.04,331.89 L457.95,331.3 L458.93,330.96 L460.04,331.04 L461.01,330.51 L461.58,329.58 L462,328.5 L462.75,328.17 L462.61,327.02 L462.22,326.05 L461.3,325.42 L460.36,324.81 L459.94,323.85 L459.81,322.7 L459.39,322.06 L459.11,320.99 L458.94,319.93 L459.33,318.97 L459.93,318.04 L460.13,317.05 L460.01,315.93 L461.04,315.83 L462.01,316.15 L462.98,316.56 L463.98,316.68 L465.01,316.57 L466.02,316.58 L467.01,316.82 L467.96,317.1 L468.97,317.46 L470.02,317.7 L471.03,318.04 L472,318.5 L472.97,318.96 L473.99,319.29 L475.03,319.55 L476.05,319.93 L476.8,320.71 L477.58,321.44 L478.5,322 L479.44,322.53 L480.22,323.26 L480.83,324.01 L480.84,325.01 L481.16,326 L481.45,326.99 L481.32,327.99 L480.99,329.01 L480.99,330.02 L481.44,331 L481.8,331.98 L481.61,332.99 L481.17,334.02 L481.18,335.02 L481.71,335.99 L482.1,336.98 L481.86,337.99 L481.41,339.02 L481.43,340.02 L481.96,340.99 L482.31,341.98 L482.09,342.99 L481.73,344.13 L482.26,345.12 L483.16,345.92 L483.75,346.87 L484,348"/>
<path d="M436,229 L448,230 L460,231 L472,236"/>
</g>
<g fill="none" stroke="#0000FF" stroke-width="1.25" stroke-linejoin="round" stroke-linecap="round">
<path d="M34,140 L40,145 L46,146 L50,153.75 L52.5,167.5 L47.5,177.5 L42.5,182.5 L32.5,183.75 L25,186 L17.5,191"/>
<path d="M89,219.6 L100,216 L110,208 L120,198 L130,191 L134,186 L140,181 L150,177 L152,172 L156,169 L160,168 L162,165 L164,169 L168,167 L170,164 L172,170 L171,173 L173,174"/>
<path d="M127,280 L130,270 L129,266 L122,258 L117,250 L118,240 L120,235 L128,230 L138,220 L148,212 L155,206 L158,201 L163,197 L161,192 L159,188 L166,181 L170,174 L173,170 L177,166 L178.4,169 L176,174 L172,174"/>
<path d="M176,174 L180,176 L184,177 L192,174 L198,173 L201,175 L203,172 L208,175 L211,174 L214,167 L218,167 L222,169 L224,166 L227,165 L230,169 L232,166 L230,159 L232,154 L240,151.6 L248,151 L250,146 L253,136 L259,130 L259,125.6 L252,124 L247,120 L248,115 L243,108 L240,101 L238.5,98"/>
<path d="M248,151 L252,157 L258,160 L264,161 L270,160 L276,156 L284,150 L286,145 L294,140 L302,138 L310,135 L320,136.5 L330,133 L340,126 L348,124 L356,127 L361,130"/>
<path d="M285,148 L292,149 L297,148 L304,151 L307,158 L312,163 L320,162.5 L332,158 L339,154 L340,148 L344,145 L352,147 L362,144 L372,141.6 L384,142.4 L389,146 L392,148.6"/>
<path d="M264,161 L265,168 L268,175 L271,180 L270,184 L267,186 L264,192 L262,196 L256,206 L250,216 L247,220 L248,224 L243,232 L238,238 L232,245 L226,248 L220,250 L214,255 L212,260 L214,266 L219,272 L222,275"/>
<path d="M264,161 L266,165 L272,171 L280,176 L288,177 L296,179 L300,184 L301,194 L301,198 L298,206 L294,210 L292.4,218 L293,226 L295,230 L290,237 L284,244 L282,250 L277,257 L270,261 L264,264 L262,268"/>
<path d="M300,183 L308,182 L318,179.5 L330,177 L336,175 L342,177 L350,178 L355,184 L366,183 L378,185 L390,191 L400,195 L408,198 L412,204 L410,212 L409,217 L412,219"/>
<path d="M217,168 L216,176 L213,182 L211,189 L214,196 L217,199 L215,206 L208,213 L200,218 L192,224 L188,230 L186,236 L180,246 L175,256 L170,258 L162,259 L154,262 L146,264 L141,268"/>
<path d="M175,256 L182,260 L190,265 L196,269 L193,274 L188,281"/>
<path d="M359,250 L368,247 L378,239 L388,235 L396,230 L402,225 L408,223 L413,227 L418,229 L426,226 L431,222 L434,217"/>
<path d="M434,212 L433.55,213 L433.83,214 L434.46,215 L434.36,216 L433.62,217.07 L433.66,218.1 L434.61,218.96 L435.19,219.88 L434.67,221.01 L434.23,222.12 L434.95,223.03 L435.92,223.88 L435.79,224.94 L435.11,226.1 L435.34,227.09 L436.36,228.05 L436.43,229.07 L435.59,229.98 L435.08,230.93 L435.47,232 L435.85,233.06 L435.42,234.02 L434.78,234.96 L434.78,235.89 L434.74,237.01 L434.32,237.93 L433.54,238.68 L432.98,239.54 L432.75,240.55 L432.44,241.54 L431.85,242.38 L431.24,243.21 L430.85,244.15 L430.55,245.14 L430.07,246.07 L429.18,246.68 L428.4,247.4 L427.81,248.31 L427.14,249.14 L426.2,249.7 L425.31,250.31 L424.78,251.28 L424.27,252.22 L423.34,252.84 L422.34,253.4 L421.93,254.44 L421.71,255.64 L420.82,256.29 L419.83,256.5 L418.9,257.04 L418.16,258.15 L417.14,258.42 L415.86,257.9 L414.82,258.14 L414.16,259.32 L413.27,260.04 L411.85,259.69 L410.73,259.97 L410.14,261.28 L409.25,262 L407.87,261.75 L406.77,262.04 L406.09,263.22 L405.17,263.83 L403.95,263.66 L402.85,263.82 L402.03,264.67 L401.12,265.31 L399.99,265.38 L398.9,265.56 L397.99,266.18 L397.07,266.79 L396.02,267.03 L395.02,267.32 L394.15,267.84 L393.32,268.46 L392.41,268.91 L391.42,269.2 L390.48,269.6 L389.66,270.23 L388.81,270.8 L387.82,271.09 L386.8,271.34 L385.96,271.93 L385.13,272.76 L384.05,273.1 L382.84,273.17 L381.93,273.87 L381.2,274.9 L380.08,275.16 L378.77,275.04 L377.94,275.79 L377.16,276.82 L376.11,276.95 L374.86,276.42 L373.85,276.71 L373.12,277.89 L372.18,278.39 L370.92,277.84 L369.81,277.76 L369.03,278.81 L368.3,279.59 L366.99,279.47 L365.79,279.43 L364.99,280.35 L364.19,281.26 L363.04,281.22 L361.84,281.08 L360.95,281.73 L360.12,282.58 L359.06,282.79 L357.95,282.75 L356.96,283.02 L356.03,283.55 L355.04,283.78 L353.99,283.73 L352.97,283.84 L352,284.21 L351.03,284.54 L350.01,284.63 L348.97,284.67 L347.95,284.95 L347.23,285.82 L346.34,286.5 L345.32,287.01 L344.49,287.76 L343.86,288.75 L342.96,289.41 L342.13,289.74 L341.1,289.3 L339.84,289.32 L338.88,288.75 L338.19,287.63 L337.15,287.2 L336.11,287.46 L335.11,287.67 L333.9,287.11 L332.86,287.19 L332.06,288.26 L331.16,288.9 L329.98,288.41 L328.83,288.07 L327.97,288.92 L327.2,289.95 L326.07,289.84 L324.83,289.39 L323.9,289.94 L323.14,291 L322.12,291.24 L320.9,290.88 L319.79,291.16 L319.14,292.35 L318.15,292.99 L316.87,293.17 L315.97,293.81 L315.03,294.34 L314.03,294.53 L312.99,294.42 L311.97,294.49 L311,294.85 L310.05,295.14 L309.01,295.35 L307.96,295.54 L306.98,295.95 L306.04,296.46 L305.03,296.75 L304.08,296.88 L303.22,296.31 L302.21,295.98 L301.3,295.48 L300.64,294.62 L299.9,293.87 L298.83,293.61 L298.35,293.23 L297.29,293.97 L296.25,294.73 L295.94,296.17 L294.82,296.21 L294.02,295.26 L293.2,294.39 L292.02,294.62 L290.79,294.97 L290.17,294.07 L288.99,294.76 L288.94,295.9 L289.37,297.23 L288.73,298.13 L288.17,298.48 L287.13,298.27 L285.87,298.74 L284.86,298.43 L284.09,297.39 L283.14,296.9 L282.15,297.08 L281.86,298.18 L280.88,298.94 L280.21,299.85 L280.06,301.08 L279.31,301.91 L278.24,302.37 L277.3,302.99 L276.6,303.9 L275.81,304.69 L274.83,305.26 L274.02,305.87 L273,305.85 L271.98,305.81 L270.99,305.53 L270.03,305.18 L269.02,305.07 L267.98,305.17 L266.98,305.06 L266.02,304.61 L265.04,304.34 L263.99,304.58 L262.95,304.76 L261.99,304.29 L261.06,303.68 L259.85,303.85 L259.55,305.15 L258.56,305.76 L257.2,306 L256.63,307.03 L256.28,308.55 L255.12,308.73 L253.71,308.43 L252.87,309.25 L252.28,310.57 L251.13,310.76 L249.52,310.62 L249.08,311.63 L249.07,312.99 L248.3,313.74 L247.01,314.08 L246.35,314.92 L246.05,316.29 L245.07,316.57 L243.98,316.2 L242.94,316.13 L242,316.67 L241.05,317.13 L240.05,317.06 L239,317.54 L238.24,318.38 L237.54,319.28 L236.61,319.9 L235.62,320.46 L234.82,321.25 L234.02,322.13 L233.01,322.24 L231.98,322.22 L230.98,322.37 L230.02,322.77 L229.03,323.03 L227.97,322.94 L226.88,323.26 L226.03,324.07 L225.16,324.81 L223.96,324.92 L222.81,325.11 L222,326"/>
<path d="M323,291.5 L322.69,292.57 L323.07,293.59 L323.68,294.59 L323.54,295.65 L322.98,296.74 L323.16,297.78 L323.98,298.76 L324.12,299.8 L323.43,300.9 L323.3,301.96 L324.12,302.94 L324.58,304.06 L323.86,305 L323.23,305.94 L323.55,306.98 L324.09,308.05 L323.8,309.03 L323.05,309.96 L322.92,310.96 L323.39,312.02 L323.48,313.04 L322.95,314.01 L322.87,315.07 L323.35,316.01 L323.85,316.95 L323.91,317.98 L323.83,319.03 L324.07,320.03 L324.5,320.98 L324.73,321.97 L324.75,323.01 L324.88,324.04 L325.31,325 L325.72,325.97 L325.91,327 L326.07,328.04 L326.45,329.01 L326.94,329.96 L327.2,330.97 L327.24,332.05 L327.53,333.05 L328.16,333.94 L328.64,334.91 L328.64,336.07 L328.89,337.13 L329.75,337.94 L330.3,339.3 L329.17,339.67 L328.14,340.14 L327.77,341.27 L327.31,342.46 L325.97,342.63 L324.68,342.85 L324.03,344.17 L323.12,344.78 L322,344.4 L320.89,344.03 L319.97,344.64 L319.5,345.08 L319.13,346.05 L318.29,346.94 L318.12,347.94 L318.56,349.04 L318.56,350.07 L317.93,351.04 L318.38,352.19 L319.44,352.93 L320,354"/>
<path d="M327,342 L327.84,342.79 L328.98,342.9 L330.18,342.86 L331.04,343.62 L331.8,344.61 L332.93,344.72 L334.24,344.53 L335.09,345.31 L335.75,346.49 L336.9,346.7 L338.25,346.51 L339.11,347.29 L339.76,348.48 L340.89,348.71 L342.22,348.56 L343.1,349.3 L343.8,350.39 L344.91,350.68 L346.24,350.71 L346.97,351.57 L347.52,352.66 L348.47,353.26 L349.58,353.67 L350.37,354.47 L351.03,355.43 L351.98,356.1 L353.03,356.13 L354.03,356.39 L354.98,356.82 L355.97,357.11 L357.01,357.21 L358.03,357.39 L359,357.76 L359.91,358.1 L360.85,358.72 L361.82,359.3 L362.58,360.13 L363.28,361.03 L364.27,361.59 L365.33,362.06 L366.03,362.97 L366.54,364.06 L367.56,364.64 L368.71,365.09 L369.24,366.16 L369.58,366.72 L369.33,367.79 L369.29,369 L368.51,369.72 L367.32,370.17 L366.8,371.06 L366.88,372.35 L366.39,373.33 L365.05,373.66 L364.18,374.39 L364.07,375.75 L363.51,376.74 L362.24,377.13 L361.38,377.86 L361.2,379.03 L361.27,380.06 L360.66,380.99 L360.21,381.95 L360.37,382.99 L360.57,384.04 L360.27,385.02 L359.84,386.1 L360.45,386.94 L361.24,387.65 L361.83,388.49 L362.24,389.46 L362.75,390.36 L363.44,391.14 L364.08,391.91 L364.86,392.71 L365.63,393.53 L366.57,394.15 L367.53,394.74 L368.3,395.56 L369.01,396.44 L369.98,397.02 L371.03,397.51 L371.74,398.4 L372.36,399.4 L373.39,399.9 L374.54,400.26 L375.2,401.22 L375.7,402.36 L376.79,402.8 L378.05,403.03 L378.66,404.04 L379.07,405.29 L380.19,405.69 L381.51,405.84 L382.06,406.84 L382.79,407.92 L383.91,408.03 L385.19,407.73 L386.11,408.32 L387,409"/>
<path d="M420,257 L420.11,258.1 L420.86,258.83 L421.91,259.39 L422.3,260.33 L422.14,261.58 L422.55,262.51 L423.73,262.99 L424.61,264.2 L423.56,264.96 L422.67,265.78 L422.98,266.99 L423.32,268.22 L422.49,269.05 L421.62,269.49 L421.01,270.34 L420.7,271.6 L419.88,272.17 L418.62,272.16 L417.5,273.1 L418.31,273.98 L418.87,274.91 L418.63,275.99 L418.42,277.08 L418.89,278.07 L419.86,278.84 L420.26,279.96 L420.6,281.12 L421.38,282.01 L422.18,283.03 L421.9,284.01 L421.58,284.98 L421.5,285.99 L421.53,287.01 L421.39,288.02 L421.07,288.99 L420.86,289.95 L420.71,291.02 L420.53,292.06 L419.98,292.99 L419.41,293.92 L419.3,294.99 L419.21,296.26 L418.24,296.76 L417.09,297.03 L416.37,297.84 L415.93,299 L415.03,299.58 L413.57,300.07 L413.71,301.08 L414.66,301.95 L415.1,302.9 L414.51,304.03 L414.16,305.11 L414.96,305.97 L414.82,307.3 L413.62,307.76 L412.33,308.13 L412.08,309.38 L411.92,310.7 L410.79,311.2 L409.43,311.86 L409.59,312.96 L409.96,314.12 L409.5,315.06 L408.95,315.66 L407.96,315.84 L407.03,316.48 L406.04,316.73 L404.99,316.5 L403.96,316.46 L403,316.84 L402.1,317.17 L401.02,317.63 L399.92,318.06 L398.99,318.79 L398.07,319.52 L396.99,320 L396.46,320.94 L396.19,321.99 L395.97,323.07 L395.44,324.02 L394.88,325.19 L395.97,325.65 L397.16,325.94 L398.02,326.77 L398.8,327.74 L400,328 L401.12,328.18 L401.79,329.03 L402.29,330.14 L403.26,330.53 L404.56,330.45 L405.4,331.05 L405.68,332.24 L406.11,333.16 L407.36,333.48 L408.35,333.98 L408.43,335.18 L408.46,336.41 L409.38,336.96 L410.65,337.26 L411.16,338.13 L411.1,339.43 L411.57,340.32 L412.73,340.7 L413.63,341.28 L413.82,342.38 L414.04,343.47 L414.87,344.1 L415.86,344.6 L416.39,345.46 L416.65,346.51 L417.2,347.35 L418.04,347.94 L419,348.37 L419.77,349.12 L420.58,349.81 L421.54,350.24 L422.52,350.66 L423.36,351.29 L424.16,352 L425.07,352.51 L426.06,352.89 L426.94,353.39 L427.7,354.09 L428.52,354.68 L429.53,354.95 L430.52,355.25 L431.26,355.98 L431.95,356.8 L432.86,357.07 L433.88,357.81 L434.21,358.91 L434.13,360.22 L434.89,361.1 L436.01,362.37 L435.09,362.99 L433.74,363.22 L433.16,364.15 L433.12,365.56 L432.21,366.42 L430.77,366.04 L429.79,366.57 L429.22,367.94 L428.21,368.42 L426.79,368.09 L425.8,368.6 L425.18,369.87 L424.18,370.36 L422.84,370.19 L421.84,370.69 L421.13,371.76 L420.13,372.26 L418.9,372.3 L417.9,372.79 L417.08,373.65 L416.13,374.13 L415.11,374.71 L414.3,375.5 L413.67,376.47 L412.88,377.28 L411.91,377.98 L411.64,378.97 L411.56,380.02 L411.39,381.04 L410.97,382.01 L410.97,383.03 L411.31,384 L411.74,384.96 L411.78,385.98 L411.57,387.04 L411.79,387.89 L411.76,389.13 L411.27,390.13 L410.19,390.84 L409.67,391.84 L409.86,393.18 L409.42,393.93 L408.81,395.06 L408.76,396.1 L409.7,396.97 L410.33,397.89 L409.83,399 L409.36,399.74 L409.46,400.94 L409.82,402.25 L409.02,403.09 L407.84,403.78 L407.89,404.72 L407.19,405.88 L406.12,406.11 L404.84,405.81 L403.87,406.28 L402.82,407.26 L401.85,406.52 L401,405.6"/>
<path d="M435.6,362 L436.77,362.07 L437.8,361.5 L438.81,360.87 L440,361.01 L441,361.43 L442,361.15 L443,360.59 L444,360.7 L445,361.32 L446,361.43 L447,360.82 L448,360.51 L449,361.01 L450.18,361.44 L451.04,360.7 L451.84,359.8 L452.94,359.66 L454.14,359.74 L455.07,359.17 L455.89,358.32 L456.93,358.02 L458.08,358.01 L459.07,357.57 L459.93,356.86 L460.83,356.39 L461.85,356.16 L462.8,355.78 L463.63,355.16 L464.49,354.61 L465.45,354.26 L466.41,353.91 L467.29,353.4 L468.15,352.84 L469.06,352.39 L470.03,352.06 L470.96,351.64 L471.8,351.05 L472.66,350.51 L473.64,350.19 L474.63,349.89 L475.48,349.32 L476.27,348.62 L477.21,348.24 L478.28,348.11 L479.2,347.67 L480,347"/>
<path d="M326,417 L326.19,419.11 L328.4,417.2 L329.75,417 L328.96,420.53 L330.06,420.7 L332.89,418.33 L333.2,419.67 L331.95,423.3 L333.58,422.69 L336.79,420.46 L335.98,423 L334.81,425.95 L338.27,423.86 L339.74,423.94 L337.76,427.76 L339.53,427.79 L342.19,425.61 L341.74,428.63 L342.12,430.27 L344.71,428.22 L345.34,429.43 L345.25,431.85 L347.13,430.98 L348.51,430.95 L348.63,433.02 L349.84,433.33 L351.33,432.84 L351.99,434.01 L352.74,435.02 L354.12,434.77 L355.19,435.12 L356.15,436.44 L357.09,435.95 L357.8,434.73 L358.94,434.82 L360.27,435.48 L361,434.33 L361.65,432.95 L363.1,433.97 L364.41,434.58 L364.75,432.26 L365.56,431.35 L367.42,433.58 L367.52,433.19 L369.71,430.61 L370.29,432.07 L370.1,435.45 L371.98,433.64 L375.45,433.02 L372.62,435.31 L371.51,436.92 L375.75,436.38 L376.4,437.28 L375,439 L375.16,440.24 L376.21,440.77 L377.57,441.05 L377.95,442.11 L377.76,443.62 L378.44,444.09 L379.77,444.9 L380.16,445.86 L379.18,447.05 L378.69,448.16 L379.8,449.01 L380.81,449.46 L380.79,450.92 L380.54,452.53 L382.01,453 L381.5,451.72 L382.45,450.93 L383.69,450.23 L383.69,449.12 L383.16,447.83 L383.89,446.56 L385.08,447.07 L386.11,446.95 L386.97,446.12 L388.29,445.71 L388.75,446.75 L389.28,447.72 L390.2,448.3 L391.19,448.87 L391.72,449.96 L392.17,451.11 L392.98,452.03 L394.1,452.43 L395.01,453.18 L395.87,454.01 L396.99,454.42 L397.95,454.68 L398.99,454.75 L400.06,455.04 L401.04,454.76 L401.94,453.98 L402.92,453.7 L404.05,454.24 L405.13,454.45 L405.99,453.56 L406.85,452.64 L407.95,452.96 L408.6,453.67 L409.79,453.95 L411.44,453.46 L412.2,454.46 L412.53,456.19 L414,456.36 L415,455.16 L416,455.31 L417,456.54 L418,456.88 L419,455.84 L420.53,455.3 L420.91,456.45 L421.17,457.77 L422.14,458.15 L423.47,458.04 L424.27,458.53 L424.79,459.68 L425.52,460.47 L426.67,460.53 L427.76,460.69 L428.5,461.45 L429.19,462.31 L430.13,462.73 L431.2,462.94 L431.88,463.45 L432.91,463.02 L433.83,462.43 L434.54,461.59 L435.3,460.81 L436.3,460.33 L437.29,459.86 L438.02,459.02 L438.62,458.16 L439.49,457.66 L440.58,457.44 L441.42,456.89 L441.99,455.79 L442.97,455.4 L444,455.92 L445.03,456.51 L446.01,456.07 L446.97,455.1 L447.97,455.12 L449.02,456.13 L449.92,456.44 L451.13,455.41 L452.28,454.87 L453.28,456.09 L453.43,456.19 L454.56,457.01 L455.75,457.81 L455,459"/>
</g>
<path d="M10.75,153.75 L35,140 L60,124 L82,109.5 L96.25,101.25 L96.25,98 L100,97 L102.5,98.75 L102.5,102 L122.5,97 L122.36,98.06 L122.62,99.05 L123.25,99.96 L123.69,100.92 L123.55,101.98 L123.23,103.07 L123.39,104.08 L124.11,105.03 L124.21,106.15 L123.62,107.07 L122.72,107.89 L122.33,108.86 L122.56,109.97 L123.41,110.72 L123.62,111.76 L123.53,112.94 L123.84,113.94 L124.68,114.69 L125.49,115.46 L125.8,116.45 L125.87,117.63 L126.48,118.45 L127.38,118.98 L128.3,119.48 L129,120.21 L129.54,121.11 L130.15,121.92 L131,122.59 L132.05,122.4 L133.09,122.37 L134.14,122.51 L135.18,122.61 L136.23,122.56 L137.27,122.43 L138.32,122.39 L139.36,122.5 L140.41,122.63 L141.45,122.6 L142.41,122.5 L142.31,121.41 L142.5,120.31 L142.75,119.22 L142.65,118.12 L142.28,117.03 L142.18,115.94 L142.57,114.84 L142.54,114.17 L143.59,113.81 L144.61,113.17 L145.67,113.02 L146.8,113.48 L147.91,113.74 L148.94,113.25 L149.65,112.69 L150.33,111.95 L151.43,111.59 L151.82,111.25 L152.9,111.33 L154.08,111.13 L155.09,111.39 L155.9,112.2 L156.75,112.93 L157.8,113.09 L158.93,113.01 L159.95,113.26 L160.82,113.93 L161.7,114.55 L162.71,114.81 L163.78,114.88 L164.78,115.08 L165.71,115.52 L166.63,115.97 L167.61,116.23 L168.62,116.36 L169.62,116.55 L170.57,116.89 L171.51,117.29 L172.45,117.59 L173.39,118.04 L174.35,118.47 L175.22,119.03 L176.03,119.71 L176.87,120.33 L177.84,120.74 L178.96,121.22 L179.08,122.32 L178.9,123.46 L178.91,124.58 L179.4,125.62 L179.91,126.66 L179.87,127.79 L179.5,128.95 L180.05,130.39 L180.99,129.77 L181.94,129.24 L182.97,129.36 L184.04,129.83 L185.07,129.9 L186.01,129.3 L186.94,128.64 L187.95,128.6 L189.02,129.06 L189.59,129.06 L190.48,129.67 L191.53,130.16 L192.19,130.94 L192.53,132.04 L193.58,131.64 L194.27,130.8 L194.85,129.82 L195.67,129.13 L196.69,128.7 L197.52,128.23 L198.51,128 L199.49,127.68 L200.48,127.54 L201.5,127.59 L202.57,127.59 L203.39,126.94 L204.14,126.21 L204.93,125.54 L205.82,124.98 L206.73,124.45 L207.52,123.85 L208.53,123.49 L209.55,123.18 L210.62,123.08 L211.7,123.09 L212.74,122.89 L213.7,122.42 L214.44,121.66 L215.4,121.23 L216.48,120.96 L217.36,120.4 L217.97,119.46 L218.63,118.58 L219.63,118.19 L220.8,118.06 L221.71,117.55 L222.26,116.52 L222.86,115.55 L223.85,115.16 L225.07,115.09 L226.02,114.63 L226.57,113.61 L227.15,112.61 L228.11,112.17 L229.3,112.06 L230.35,111.56 L230.72,110.52 L231.06,109.46 L231.8,108.75 L232.79,108.26 L233.62,107.63 L234.12,106.7 L234.55,105.73 L235.22,104.95 L236.08,104.35 L236.87,103.68 L237.47,102.85 L238.01,101.96 L238.64,101.33 L238.1,100.35 L237.54,99.39 L236.84,98.52 L236.08,97.7 L235.5,96.65 L236.55,96.77 L237.6,96.86 L238.65,96.76 L239.7,96.54 L240.75,96.48 L241.8,96.7 L242.85,96.9 L243.9,96.75 L244.95,96.37 L245.99,96.26 L247.05,96.62 L248.11,96.97 L249.15,96.76 L250.19,96.2 L251.66,96.29 L251.66,97.75 L251.97,99.06 L252.99,99.82 L253.97,99.4 L254.99,99.67 L256.02,100.22 L257.02,100.3 L258,99.76 L258.98,99.24 L259.98,99.31 L261.01,99.78 L262.02,99.99 L263.13,99.58 L263.38,98.24 L264.2,97.25 L265.21,96.11 L264.62,95.3 L263.84,94.62 L263.16,93.87 L262.7,92.97 L262.31,92.03 L261.78,91.17 L261.12,90.41 L260.47,89.64 L259.92,88.78 L259.69,87.66 L259.39,86.57 L258.93,85.54 L258.45,84.5 L258.15,83.41 L257.98,82.28 L257.58,81.38 L258.41,80.65 L259.27,79.98 L260.3,79.61 L261.41,79.38 L262.34,78.83 L263.08,77.93 L263.92,77.21 L265.04,77 L266.09,76.92 L267.05,76.62 L267.92,75.87 L268.83,75.35 L269.89,75.49 L270.99,75.85 L271.99,75.71 L272.85,74.97 L273.74,74.3 L274.76,74.27 L275.86,74.64 L276.89,74.67 L277.79,74.07 L279.13,73.67 L279.31,74.72 L279.03,75.86 L279,76.95 L279.48,77.94 L280.05,78.91 L280.22,80.06 L279.67,80.98 L279.28,81.94 L279.17,82.98 L279.13,84.03 L278.75,84.86 L279.78,84.99 L280.81,85.07 L281.84,84.97 L282.87,84.81 L283.89,84.75 L284.93,84.82 L285.96,84.91 L286.99,84.85 L288.01,84.67 L289.04,84.54 L290.07,84.63 L291.11,84.83 L292.14,84.81 L293.16,84.51 L294.18,84.26 L295.22,84.4 L296.48,84.63 L297.08,83.74 L297.24,82.6 L297.47,81.49 L298.24,80.7 L299.26,80.05 L299.84,79.14 L299.88,77.91 L300.24,76.83 L301.2,76.22 L302.35,75.78 L303.01,74.94 L303.2,73.72 L303.61,72.65 L304.59,72.11 L305.7,71.67 L306.37,70.84 L306.69,69.7 L307.43,68.6 L308.48,68.71 L309.54,68.93 L310.41,68.76 L311.65,68.79 L312.83,69.02 L313.87,69.63 L314.87,70.13 L315.8,70.87 L316.75,71.58 L317.55,72.44 L318.45,73.32 L319.42,73.99 L319.41,75 L319.37,76.01 L319.17,77.01 L318.93,78.07 L319.92,78.94 L319.36,80.08 L318.64,81.09 L317.58,82.15 L316.88,83.6 L318.05,84.32 L318.83,85.36 L319.57,86.17 L318.45,85.93 L317.2,86.24 L316.02,86.21 L315.01,85.44 L313.99,84.73 L312.78,84.85 L311.52,85.22 L310.79,84.69 L309.04,86.27 L310.26,87.24 L311.06,88.02 L312.01,88.54 L312.95,89.12 L313.96,89.21 L314.97,88.91 L315.88,88.29 L316.96,88.15 L318.08,88.09 L318.92,87.7 L320.02,87.81 L321.07,88.06 L322.02,88.57 L323.09,89.09 L323.83,88.33 L324.47,87.47 L325.17,86.67 L326.03,85.99 L326.42,87.04 L326.93,88.04 L327.55,88.96 L328.43,89.92 L329.11,91.05 L330.08,92.16 L330.98,91.46 L331.8,90.85 L332.51,90.13 L333.37,89.53 L334.05,88.79 L334.4,87.8 L334.74,86.74 L335.51,86.08 L336.56,85.71 L337.48,85.2 L337.96,84.25 L338.29,83.14 L338.96,82.39 L340.06,82.05 L341.09,81.5 L341.53,80.49 L341.61,79.46 L341.67,78.32 L342.42,77.27 L342.88,76.18 L342.55,75.03 L342.8,73.76 L343.69,72.91 L344.39,72.32 L345.91,72.52 L346.54,73.69 L346.51,74.9 L347.6,75.32 L348.73,75.4 L349.88,75.29 L351.14,75.44 L351.48,76.63 L351.89,77.8 L352.49,78.88 L353.1,79.96 L353.52,81.16 L353.89,82.38 L354.45,83.48 L354.13,84.72 L353.58,85.87 L352.84,86.9 L352.25,87.91 L351.94,89.09 L351.45,90.15 L350.52,90.95 L349.7,92.24 L350.59,92.89 L351.63,93.43 L352.28,94.28 L352.51,95.46 L352.93,96.49 L353.93,97.08 L355.2,97.37 L355.95,98.26 L356.38,99.54 L357.06,100.15 L358.02,101.02 L358.71,101.98 L358.64,103.19 L358.5,104.43 L359.04,105.44 L359.91,106.34 L360.03,107.16 L361,107.65 L361.97,108.02 L362.98,107.98 L364.01,107.76 L365.02,107.76 L366,108.06 L366.98,108.36 L367.99,108.44 L369,108.37 L370.13,108.47 L370.3,109.51 L370.42,110.57 L370.65,111.6 L371.02,112.6 L371.36,113.6 L371.56,114.64 L371.66,115.7 L371.86,116.73 L372.27,117.72 L372.5,118.55 L373.54,118.63 L374.58,118.92 L375.62,119.02 L376.65,118.75 L377.69,118.41 L378.73,118.51 L379.77,118.97 L380.81,119.18 L381.85,118.81 L382.88,118.31 L383.92,118.38 L384.96,118.97 L386.11,119.27 L387.07,118.63 L387.99,117.83 L389.05,117.68 L390.23,118.07 L391.34,118.13 L392.29,117.46 L393.22,116.72 L394.29,116.61 L395.46,116.92 L396.54,116.88 L397.52,116.28 L398.3,115.48 L399.29,115.11 L400.4,114.96 L401.39,114.59 L402.23,113.91 L403.08,113.25 L404.06,112.83 L405.09,112.54 L405.91,112.11 L406.76,112.69 L407.62,113.27 L408.38,113.96 L409.08,114.73 L409.8,115.46 L410.62,116.08 L411.49,116.65 L412.28,117.3 L412.96,118.09 L413.57,118.8 L413.89,119.75 L414.38,120.66 L414.75,121.6 L414.79,122.63 L414.73,123.68 L414.98,124.65 L415.6,125.53 L416.15,126.43 L416.11,127.32 L416.71,128.29 L417.51,128.95 L418.63,129.09 L419.76,129.2 L420.56,129.86 L421.11,130.91 L421.84,131.68 L422.94,131.85 L424.11,131.89 L424.97,132.45 L425.55,133.47 L426.24,134.31 L427.27,134.58 L428.42,134.66 L429.33,135.13 L430,136.03 L431.08,136.29 L432.13,136.03 L433.16,135.56 L434.21,135.43 L435.29,135.64 L436.36,135.76 L437.41,135.56 L438.45,135.27 L439.51,135.17 L440.58,135.24 L441.64,135.27 L442.7,135.14 L443.82,134.98 L444.1,135.95 L444.26,136.94 L444.39,137.94 L444.65,138.91 L445.05,139.85 L445.42,140.79 L445.57,141.79 L445.6,142.82 L446.11,143.94 L446.91,143.18 L447.7,142.41 L448.71,142.01 L449.85,141.84 L450.82,141.38 L451.53,140.46 L452.85,139.7 L453.39,140.87 L453.75,142.2 L454.78,142.95 L456.17,143.97 L455.66,144.84 L454.67,145.46 L453.87,146.18 L453.69,147.22 L453.75,148.38 L453.39,149.33 L452.5,150 L451.71,150.93 L451.6,152.08 L451.73,153.31 L451.36,154.38 L450.58,155.31 L450.06,156.33 L449.99,157.49 L449.52,158.48 L448.77,159.25 L447.91,159.93 L447.21,160.73 L446.67,161.67 L446.13,162.51 L445.98,163.51 L445.75,164.49 L445.59,165.49 L445.57,166.5 L445.59,167.51 L445.51,168.51 L445.28,169.5 L445.05,170.49 L445,171.49 L445.1,172.55 L444.74,173.51 L444.12,174.33 L443.42,175.12 L442.97,176.03 L442.83,177.1 L442.6,178.12 L441.95,178.93 L441.09,179.63 L440.54,180.5 L440.49,181.61 L440.39,182.22 L440.86,183.21 L440.97,184.45 L441.47,185.42 L442.55,186.02 L442.58,187.21 L441.89,188.1 L440.89,188.85 L440.41,189.83 L440.53,191.05 L440.45,192.19 L439.72,193.06 L438.84,193.86 L438.54,194.76 L438.06,195.76 L437.44,196.6 L436.52,197.11 L435.54,197.54 L434.75,198.19 L434.15,199.05 L433.49,199.86 L432.66,200.46 L431.77,200.99 L430.97,201.63 L430.28,202.39 L429.59,203.15 L428.83,203.74 L428.86,204.85 L428.95,205.95 L429.21,207.03 L429.5,208.11 L429.62,209.21 L429.57,210.33 L429.66,211.43 L430.03,212.47 L430.94,213.1 L431.58,213.99 L432.06,215.02 L432.79,215.83 L433.84,216.32 L434.8,216.9 L435.33,217.89 L435.59,218.7 L435.52,219.8 L436,220.97 L436.14,222.09 L435.51,223.13 L434.85,224.16 L434.96,225.28 L435.49,226.45 L434.81,227.07 L436.05,227.15 L437.21,227.06 L438.06,226.29 L438.85,225.36 L439.87,224.95 L441.07,224.95 L442.15,224.68 L443.01,223.93 L443.89,223.2 L445.08,222.86 L445.92,223.73 L446.91,224.35 L448.03,224.75 L449.08,225.27 L450,226 L451.01,226.01 L452.01,225.88 L453,225.66 L453.99,225.49 L455,225.46 L456.01,225.49 L457.01,225.42 L458,225.19 L458.98,224.94 L460.04,224.89 L461.03,225.49 L462.07,225.93 L463.23,226.02 L464.39,226.13 L465.39,226.7 L466.32,227.47 L467.47,227.78 L468.56,227.39 L469.63,227.25 L470.63,227.74 L471.62,228.37 L472.67,228.4 L473.77,227.9 L474.85,227.69 L475.85,228.21 L476.83,228.9 L477.88,228.96 L478.98,228.46 L480.41,228.44 L480.75,229.49 L480.95,230.64 L481.58,231.47 L482.59,232.02 L483.44,232.68 L483.75,233.6 L484.84,234 L485.94,233.99 L487.03,233.66 L488.12,233.52 L489.22,233.71 L490.31,233.91 L491.41,233.86 L492.56,233.71 L493.18,234.55 L493.67,235.47 L494.15,236.4 L494.74,237.26 L495.42,238.05 L496.06,238.87 L496.57,239.79 L497.01,240.74 L497.58,241.61 L498.32,242.37 L499.03,243.15 L499.5,244.08 L499.81,245.08 L500.17,246.08 L500.9,246.92 L501.59,247.77 L501.82,248.83 L501.79,249.99 L502.13,250.99 L503.01,251.77 L503.79,252.58 L503.75,253.53 L504.75,254.12 L505.75,254.26 L506.75,253.76 L507.75,253.24 L508.75,253.36 L509.75,253.96 L510.75,254.28 L511.75,253.93 L512.75,253.39 L514.14,253.92 L513.21,254.75 L512.45,255.67 L512.29,256.84 L512.2,258.04 L511.64,259.04 L510.87,259.88 L510.11,260.59 L509.55,261.5 L508.96,262.38 L508.18,263.07 L507.32,263.69 L506.56,264.41 L505.92,265.24 L505.27,266.07 L504.53,266.8 L503.7,267.49 L503.46,268.55 L503.38,269.64 L503.34,270.74 L503.13,271.8 L502.75,272.84 L502.49,273.9 L502.51,274.99 L503.49,275.47 L504.26,276.21 L504.87,277.17 L505.63,277.93 L506.69,278.3 L507.76,278.68 L508.47,279.5 L508.96,280.59 L510,281.45 L511.04,280.94 L512.08,280.48 L513.12,280.71 L514.17,281.34 L515.21,281.52 L516.25,281 L517.29,280.49 L518.33,280.67 L519.38,281.28 L520.42,281.48 L521.46,281.05 L522.89,280.88 L523.1,281.88 L522.98,282.98 L523.09,284.02 L523.65,284.91 L524.28,285.77 L524.6,286.74 L524.65,287.79 L524.87,288.92 L525.78,289.45 L526.73,289.92 L527.58,290.52 L528.33,291.25 L529.1,291.97 L529.93,292.49 L529.85,293.55 L529.69,294.6 L529.38,295.63 L529.05,296.64 L528.87,297.69 L528.84,298.77 L528.72,299.83 L528.33,300.83 L527.9,301.83 L527.76,302.89 L527.88,303.99 L527.76,304.82 L528.09,305.84 L528.35,306.9 L528.99,307.7 L529.98,308.27 L530.77,308.96 L531.06,310.01 L531.19,311.16 L531.76,312.01 L532.81,312.54 L533.72,313.15 L534.05,314.17 L534.11,315.37 L534.65,315.65 L534.3,316.72 L533.92,317.77 L533.09,318.38 L531.99,318.7 L531.11,319.25 L530.63,320.2 L529.96,321.32 L528.89,321.15 L527.87,320.6 L526.83,320.27 L525.72,320.37 L524.62,320.49 L523.55,320.3 L522.43,319.96 L521.86,320.79 L521.46,321.73 L521.09,322.68 L520.59,323.55 L519.98,324.37 L519.41,325.2 L518.95,326.09 L518.56,327.03 L518.11,327.94 L517.51,328.77 L516.5,329.09 L515.57,329.57 L514.73,330.23 L513.85,330.83 L512.84,331.14 L511.76,331.34 L510.83,331.81 L510.09,332.59 L509.52,333.52 L508.57,334.07 L507.49,334.49 L506.74,335.24 L506.38,336.38 L505.86,337.36 L504.84,337.84 L503.68,338.18 L502.95,338.95 L502.69,339.93 L503.38,340.77 L503.39,341.86 L503.2,343.03 L503.53,344.01 L504.4,344.78 L505.12,345.61 L505.25,346.66 L505.2,347.5 L504.28,348.38 L503.74,349.64 L502.82,350.65 L501.59,350.84 L500.46,351.25 L499.51,352 L500.11,353.1 L500.39,354.33 L500.67,355.49 L500.68,356.66 L500.76,357.84 L500.65,359.06 L499.49,359.93 L498.53,360.95 L497.38,360.35 L496.31,359.51 L496.4,358.32 L496.31,357.15 L495.9,356.03 L495.4,355.09 L495.28,354.02 L495.02,352.7 L494.02,352.64 L492.99,352.97 L491.97,353.2 L491.14,352.85 L489.91,353.19 L489.06,353.94 L488.44,355.21 L487.19,355.16 L486.19,354.25 L485.48,353.73 L484.65,353.02 L483.63,352.41 L483.1,351.52 L483,350.3 L482,349.91 L481,350.14 L480,350.66 L479,350.82 L478,350.46 L477,350.08 L475.73,350.37 L475.99,351.48 L476.05,352.56 L475.73,353.61 L475.37,354.65 L475.3,355.72 L475.4,356.81 L475.37,357.88 L475.14,358.94 L474.94,359.91 L474.06,360.53 L473.23,361.24 L472.36,361.89 L471.4,362.41 L470.43,362.9 L469.55,363.53 L468.76,364.28 L467.9,364.95 L466.89,365.39 L465.79,365.89 L465.38,366.89 L465.19,368.02 L464.77,369.02 L463.94,369.8 L463.14,370.6 L462.85,371.67 L462.82,372.88 L462.36,373.85 L461.36,374.55 L460.53,375.34 L460.37,376.48 L460.45,377.41 L460.63,378.41 L460.25,379.53 L460.07,380.61 L460.58,381.54 L461.24,382.77 L460.46,383.57 L459.24,383.9 L458.2,384.41 L457.61,385.44 L457.07,386.51 L456.2,386.9 L456.31,387.99 L456.66,388.96 L457.33,389.77 L458.02,390.58 L458.44,391.51 L458.71,392.45 L457.82,392.99 L457.05,393.71 L456.31,394.46 L455.48,395.08 L454.57,395.61 L453.68,396.16 L452.89,396.84 L452.13,397.57 L451.32,398.22 L450.41,398.74 L449.49,399.25 L448.66,399.97 L448.58,401 L448.39,401.99 L447.92,402.89 L447.35,403.77 L447.07,404.74 L447.12,405.8 L447.1,406.84 L446.62,407.75 L445.87,408.57 L445.45,409.49 L445.56,410.57 L445.73,411.67 L445.19,412.18 L445.85,413.34 L446.74,414.11 L448.05,414.16 L449.28,414.36 L450.06,415.32 L450.66,415.66 L450.03,416.46 L449.71,417.57 L449.19,418.48 L448.25,418.96 L447.2,419.35 L446.47,420.04 L446.04,421 L446.45,422.02 L446.39,423.11 L446.19,424.21 L446.29,425.27 L446.66,426.31 L446.93,427.35 L446.94,428.43 L446.9,429.51 L447.02,430.58 L447.28,431.62 L447.49,432.67 L447.52,433.71 L448.46,434.28 L449.46,434.74 L450.52,435.05 L451.56,435.41 L452.52,435.99 L452.83,436.97 L453.31,437.85 L454,438.62 L454.67,439.41 L455.03,440.36 L455.19,441.42 L455.56,442.36 L456.33,443.08 L457.17,443.77 L457.59,444.69 L457.62,445.82 L457.83,446.85 L458.71,447.67 L459.85,447.35 L460.86,447.55 L461.73,448.34 L462.62,449.03 L463.52,448.89 L464.64,449.49 L465.27,450.39 L465.34,451.62 L465.54,452.33 L465.49,453.49 L465.6,454.71 L465.16,455.73 L464.33,456.61 L463.81,457.59 L463.74,458.76 L464.74,459.17 L465.51,459.87 L466.18,460.72 L466.97,461.4 L467.9,461.89 L468.88,462.53 L468.64,463.56 L468.28,464.57 L468.01,465.6 L467.9,466.66 L467.81,467.73 L467.55,468.82 L466.63,469.33 L465.75,469.89 L464.98,470.6 L464.26,471.37 L463.43,472 L462.43,472.53 L462.67,473.64 L463.3,474.6 L464.03,475.51 L464.36,476.59 L464.34,477.81 L464.7,478.51 L464.41,479.56 L464.11,480.6 L463.37,481.29 L462.3,481.72 L461.46,482.33 L461.14,483.35 L460.97,484.49 L460,485.47 L458.96,484.89 L457.92,484.46 L456.88,484.76 L455.83,485.36 L454.79,485.45 L453.77,484.96 L452.95,484.1 L451.82,483.86 L450.61,483.78 L449.63,483.25 L448.65,482.4 L447.83,483.01 L447.27,483.87 L446.74,484.77 L446.02,485.48 L445.16,486.05 L444.35,486.67 L443.77,487.42 L442.73,487.27 L441.72,487.01 L440.75,486.6 L439.78,486.2 L438.72,485.94 L437.81,486.56 L436.87,487.11 L435.84,487.49 L434.8,487.85 L433.86,488.42 L433.01,489.14 L432.07,489.69 L430.95,489.97 L430.15,490.84 L429.78,491.97 L429.56,493.18 L428.86,494.11 L427.81,494.84 L427.67,495.65 L426.51,495.68 L425.41,495.59 L424.59,494.89 L423.91,493.9 L423.02,493.37 L421.85,493.43 L420.71,493.42 L420.12,492.77 L418.93,492.63 L417.92,492.88 L417.17,493.72 L416.43,494.56 L415.44,494.87 L414.3,494.84 L413.28,495.06 L412.46,495.74 L411.67,496.5 L410.73,496.9 L409.66,497.03 L408.98,497.41 L408.46,496.47 L407.87,495.55 L407.49,494.55 L407.28,493.49 L407,492.45 L406.54,491.48 L406.04,490.53 L405.66,489.53 L405.4,488.49 L405.11,487.55 L405.53,486.52 L405.88,485.44 L406.4,484.45 L407.09,483.55 L407.67,482.38 L406.93,481.66 L406.12,480.98 L405.57,480.12 L405.28,479.09 L404.89,478.12 L404.1,477.43 L403.14,476.86 L402.51,476.06 L402.32,474.95 L402.07,473.89 L401.31,473.18 L400.24,472.68 L399.49,471.96 L399.3,470.86 L398.61,469.52 L397.67,469.89 L396.86,470.75 L395.98,471.34 L394.91,471.29 L393.79,471.03 L392.8,471.26 L391.96,471.98 L391.09,472.62 L389.79,472.63 L389.62,471.46 L389.12,470.48 L388.26,469.73 L387.49,468.92 L387.05,467.91 L386.7,466.85 L386.1,466.12 L386.88,465.2 L387.75,464.39 L388.75,463.75 L388.02,463.05 L387.2,462.47 L386.33,461.95 L385.5,461.39 L384.75,460.71 L384.04,459.98 L383.26,459.35 L382.37,458.86 L381.48,458.37 L380.72,457.71 L380.02,456.87 L378.96,456.6 L377.86,456.71 L376.74,456.89 L375.69,456.63 L374.68,456.03 L373.62,455.75 L372.49,456.05 L371.41,456.2 L370.48,455.79 L369.65,454.99 L368.74,454.49 L367.67,454.64 L366.55,454.94 L365.58,454.69 L364.75,453.89 L364.18,453.43 L363.33,452.76 L362.22,452.29 L361.51,451.52 L361.27,450.4 L360.97,449.32 L360.19,448.6 L359.11,448.05 L358.36,447.23 L357.96,446.13 L357.45,445.12 L356.59,444.39 L355.69,443.7 L355.02,442.82 L354.5,441.81 L353.79,440.86 L352.79,440.7 L351.78,440.54 L350.82,440.24 L349.88,439.85 L348.94,439.49 L347.95,439.26 L346.95,439.11 L345.93,438.85 L345.1,438.12 L344.28,437.36 L343.33,436.8 L342.28,436.39 L341.35,435.8 L340.61,434.93 L339.84,434.11 L338.73,433.68 L337.87,434.34 L336.91,434.64 L335.82,434.5 L334.75,434.43 L333.84,434.93 L333.03,435.74 L332.11,436.2 L330.99,436.04 L330.05,435.25 L328.95,435.19 L327.73,435.58 L326.64,435.49 L325.7,434.69 L324.74,434 L323.61,434.04 L322.16,433.87 L322.59,432.79 L323.51,431.9 L324.1,430.88 L324.14,429.66 L324.29,428.47 L324.92,427.53 L324.85,426.36 L324.43,425.31 L323.83,424.32 L323.42,423.26 L323.23,422.14 L322.98,421.03 L322.53,420.03 L323.16,419.23 L323.86,418.5 L324.65,417.86 L325.44,417.22 L326.13,416.48 L326.73,415.66 L327.34,415.03 L327.27,413.93 L327.26,412.82 L327,411.76 L326.49,410.75 L326.15,409.7 L326.24,408.57 L326.24,407.23 L325.32,406.64 L324.18,406.29 L323.32,405.63 L322.85,404.53 L322.31,403.51 L321.29,403.03 L320.07,402.77 L319.26,402.05 L318.86,400.84 L318.23,399.97 L317.2,399.67 L316.02,399.57 L315.15,399.05 L314.61,398.04 L314.13,397.78 L314.58,396.82 L314.79,395.68 L315.31,394.77 L316.24,394.16 L317.13,393.53 L317.69,392.57 L317.75,391.35 L318.13,390.25 L318.81,389.27 L319.34,388.23 L319.6,387.09 L319.87,386.02 L319.77,384.95 L319.76,383.86 L319.63,382.8 L319.37,381.75 L319.11,380.7 L319,379.63 L319,378.55 L318.84,377.61 L319.52,376.87 L320.2,376.11 L321.01,375.52 L321.95,375.09 L322.83,374.59 L323.49,373.82 L324.06,372.92 L324.7,372.6 L324.77,371.19 L324.53,369.88 L323.56,368.64 L323.86,367.55 L324.8,366.81 L325.79,366.09 L326.12,365.01 L326.08,363.72 L326.51,362.71 L327.58,362.03 L328.41,360.65 L327.34,360.05 L326.15,359.55 L325.53,358.56 L325.06,357.2 L324,356.91 L322.84,357.14 L321.71,357.21 L320.69,356.76 L319.69,356.19 L318.61,356.01 L317.55,356.07 L316.81,356.81 L315.89,357.33 L314.96,357.83 L314.14,358.48 L313.41,359.24 L312.64,359.95 L311.78,360.53 L310.88,361.08 L310.05,361.71 L309.3,362.44 L308.54,363.17 L307.69,363.77 L306.75,364.27 L305.89,364.87 L305.2,365.68 L304.54,366.51 L303.68,367.12 L302.66,367.53 L301.77,368.09 L301.16,369 L300.6,369.95 L299.72,370.54 L298.51,371.03 L298.43,372.06 L298.94,373.01 L299.6,373.94 L299.73,374.94 L299.3,376.02 L299.04,377.07 L299.47,378.04 L300.22,378.95 L300.51,379.95 L300.12,381 L299.73,382.05 L299.94,383.04 L300.58,383.98 L300.96,384.95 L300.75,385.98 L300.4,387.03 L300.46,388.03 L300.92,389 L301.08,390.29 L299.87,390.45 L298.61,390.47 L297.45,390.87 L296.54,391.49 L295.56,391.95 L294.5,392.2 L293.45,392.49 L292.48,392.94 L291.53,393.46 L290.54,393.9 L289.5,394.19 L288.46,394.49 L287.48,394.94 L286.46,395.46 L285.4,395.85 L284.26,396 L283.14,396.21 L282.14,396.76 L281.16,397.41 L280.12,397.62 L279.14,398.06 L278.31,398.66 L277.83,399.61 L277.42,400.63 L276.68,401.32 L275.6,401.67 L274.92,402 L273.97,402.47 L273.06,403.21 L272.08,403.49 L270.99,403.13 L269.91,402.82 L268.94,403.17 L268.04,403.93 L267.09,404.34 L265.95,404.09 L265.2,403.11 L264.13,402.73 L262.89,402.73 L261.83,402.33 L261.02,401.46 L260,400.67 L258.96,400.87 L257.92,401.19 L256.88,401.22 L255.83,400.97 L254.79,400.81 L253.79,400.92 L252.74,400.65 L251.76,400.24 L250.85,399.68 L249.92,399.15 L248.93,398.76 L247.91,398.44 L246.92,398.04 L246,397.49 L244.94,397.55 L243.91,397.8 L242.91,398.2 L241.88,398.46 L240.8,398.44 L239.72,398.4 L238.7,398.69 L237.73,399.25 L236.72,399.56 L235.61,399.4 L234.5,399.21 L233.49,399.56 L232.22,400.1 L231.69,399.16 L231.78,397.99 L231.86,396.82 L231.06,395.72 L229.93,396.13 L228.9,396.12 L227.99,395.43 L227.1,394.72 L226.36,394.89 L225.43,394 L224.91,392.99 L225.06,391.78 L225.12,390.59 L224.56,389.59 L223.79,388.65 L223.51,387.36 L224.38,386.62 L225.06,385.78 L225.41,384.75 L225.73,383.69 L226.3,382.79 L227.02,381.96 L227.57,381.13 L228.45,380.46 L229.33,379.8 L230.3,379.27 L231.31,378.83 L232.28,378.31 L233.16,377.66 L234.05,377 L235.02,376.49 L236.1,375.93 L235.56,375.07 L234.82,374.34 L234.06,373.64 L233.53,372.76 L233.22,371.74 L232.82,370.93 L232.33,369.95 L231.72,369 L231.57,367.95 L231.85,366.81 L231.89,365.73 L231.28,364.77 L230.83,364.19 L229.84,363.68 L229.04,362.68 L228.08,362.09 L226.84,362.22 L225.63,362.29 L224.71,361.6 L224.09,361.21 L224.66,360.38 L224.77,359.25 L224.98,358.19 L225.68,357.44 L226.62,356.83 L227.28,356.05 L227.55,354.99 L227.08,354.04 L226.98,353.03 L227.12,351.99 L227.12,350.97 L226.84,349.99 L226.48,349.02 L226.31,348.02 L226.3,347 L226.27,345.98 L226.07,345.04 L226.49,343.97 L227.01,342.95 L227.67,342.01 L228.31,341.06 L228.77,340.03 L229.5,339.23 L230.33,338.56 L231.3,338.06 L232.23,337.51 L232.95,336.71 L233.49,336 L233.53,334.88 L233.85,333.58 L232.93,332.88 L231.72,332.7 L230.53,332.5 L229.68,331.67 L228.32,330.89 L228.12,331.9 L228.44,333.05 L228.53,334.13 L227.92,335.04 L227.61,335.59 L226.34,335.32 L224.9,335.71 L223.4,334.91 L224.2,334.05 L224.71,333.11 L224.61,332.03 L224.42,330.92 L224.77,330.23 L224.3,329.13 L223.67,328.21 L222.69,327.62 L221.71,327.04 L220.99,326.2 L220.39,325.23 L219.65,324.42 L218.74,323.76 L217.84,323.23 L217.04,322.55 L216.29,321.82 L215.48,321.17 L214.58,320.62 L213.66,320.06 L213.15,319.15 L212.74,318.18 L212.27,317.24 L211.63,316.42 L210.92,315.63 L210.4,314.73 L209.97,313.65 L208.85,313.8 L207.85,314.37 L206.88,315.04 L205.77,315.23 L204.56,315.08 L203.46,315.31 L202.55,316.12 L201.76,316.85 L200.73,317 L199.58,316.85 L198.59,317.11 L197.85,317.95 L197.13,318.82 L196,319.13 L195,318.53 L194,318.22 L193,318.57 L192,319.12 L191,319.19 L190.01,318.73 L189.32,317.86 L188.33,317.48 L187.21,317.33 L186.26,316.89 L185.53,316.09 L184.78,315.31 L183.78,314.84 L182.69,314.9 L181.63,314.77 L180.62,314.39 L179.61,314.03 L178.56,313.87 L177.52,313.81 L176.46,314.18 L175.36,314.39 L174.25,314.61 L173.2,314.99 L172.17,315.45 L171.11,315.79 L169.94,315.98 L169.51,316.91 L169.31,317.92 L169.24,318.96 L168.97,319.95 L168.39,320.83 L167.82,321.71 L167.63,322.72 L167.43,323.97 L166.14,323.66 L165.08,322.66 L164.1,322.3 L163.08,321.65 L162.22,320.91 L162.01,319.79 L162,318.56 L161.44,317.64 L160.36,317.03 L159.47,315.91 L160.02,314.98 L160.74,314.07 L160.92,313.07 L160.58,311.99 L160.4,310.93 L160.77,310.02 L161.16,308.94 L161.18,307.89 L160.75,306.88 L160.38,305.86 L160.42,304.8 L160.63,303.74 L160.62,302.69 L160.35,301.67 L160.1,300.64 L160.07,299.59 L160.15,298.54 L160.1,297.44 L159.52,296.61 L158.92,295.8 L158.42,294.92 L158.02,293.99 L157.61,293.06 L157.06,292.22 L156.41,291.42 L155.85,290.58 L155.49,289.63 L155.13,288.59 L154.34,287.98 L153.38,287.58 L152.46,287.12 L151.79,286.36 L151.25,285.42 L150.54,284.71 L149.53,284.37 L148.75,284.17 L147.75,284.08 L146.75,283.55 L145.75,283.23 L144.75,283.56 L143.75,284.15 L142.75,284.24 L141.75,283.72 L140.75,283.23 L139.75,283.39 L138.51,283.79 L138.07,282.72 L138.39,281.54 L138.67,280.36 L138.24,279.29 L137.55,278.26 L137.36,277.16 L137.48,275.88 L136.37,275.9 L135.35,276.37 L134.33,276.86 L133.24,277.01 L132.12,276.97 L131.04,277.12 L130,277.5 L129.26,278.43 L128.36,279.2 L127.47,279.91 L126.39,280.35 L125.36,280.9 L124.29,281.35 L123.15,281.63 L122.03,281.94 L121.01,282.48 L119.96,282.11 L119.04,281.51 L118.25,280.7 L117.36,280.04 L116.26,279.75 L115.15,279.47 L114.3,278.76 L113.61,277.78 L112.86,277.38 L111.99,276.48 L111.31,275.52 L111.37,274.31 L111.55,273.06 L111,272.05 L110,271.19 L109.55,270.15 L109.77,268.97 L109.83,267.83 L109.21,266.93 L108.32,266.11 L107.93,265.13 L108.07,263.98 L108.07,262.87 L107.51,261.94 L106.76,261.08 L106.38,260.09 L106.37,258.99 L106.25,257.92 L105.78,256.96 L105.2,256.05 L104.83,254.98 L105.16,253.93 L105.43,252.88 L105.48,251.79 L105.49,250.7 L105.62,249.63 L105.88,248.58 L106.11,247.46 L105.65,246.51 L105.13,245.59 L104.71,244.63 L104.48,243.6 L104.23,242.57 L103.75,241.63 L103.11,240.76 L102.66,239.81 L102.53,238.73 L102.12,237.67 L101.32,236.91 L100.3,236.31 L99.61,235.46 L99.36,234.29 L98.99,233.21 L98.05,232.55 L96.93,232.02 L96.34,231.1 L96.23,229.88 L96.03,228.85 L95.21,228.12 L94.24,227.47 L93.79,226.56 L93.84,225.4 L93.72,224.32 L93.03,223.53 L92.1,222.86 L91.54,222 L91.45,220.91 L91.03,219.65 L90.02,219.66 L88.99,219.93 L87.97,219.99 L86.99,219.69 L85.89,219.37 L85.02,220.13 L84.3,221.06 L83.47,221.86 L82.5,222.5 L81.49,222.51 L80.49,222.68 L79.51,222.93 L78.51,223.11 L77.5,223.16 L76.49,223.15 L75.49,223.26 L74.5,223.53 L73.52,223.79 L72.57,223.83 L71.69,224.35 L70.89,224.97 L70.3,225.8 L69.79,226.72 L69.07,227.42 L68.1,227.85 L67.17,228.33 L66.58,229.16 L66.06,230.28 L65.09,230.64 L64,230.42 L62.91,230.14 L61.93,230.44 L61.23,231.03 L61.39,232.18 L60.74,233.22 L60.05,234.25 L60.15,235.39 L60.65,236.58 L60.58,237.7 L59.99,238.61 L58.97,238.35 L57.99,238.67 L57.02,239.21 L55.76,239.27 L55.17,238.22 L54.49,237.26 L53.49,236.68 L52.43,236.16 L51.61,235.37 L50.93,234.42 L50.03,233.6 L48.96,233.55 L47.89,233.46 L46.86,233.19 L45.85,232.85 L44.81,232.61 L43.74,232.5 L43.25,231.62 L42.89,230.68 L42.63,229.69 L42.33,228.72 L41.83,227.84 L41.24,226.99 L40.89,226.16 L40.16,225.39 L39.41,224.63 L38.45,224.19 L37.29,223.89 L36.63,223.03 L36.39,221.88 L36.1,220.78 L35.27,220.02 L34.21,219.42 L33.61,218.52 L33.52,217.29 L33.23,216.18 L32.28,215.51 L31.19,214.92 L31,214.14 L30,213.54 L29,213.22 L28,213.56 L27,214.11 L26,214.18 L25.01,213.73 L24.48,212.7 L23.53,212.11 L22.42,211.69 L21.61,210.95 L21.07,209.96 L20.73,208.94 L20.07,208.09 L19.36,207.26 L18.87,206.32 L18.54,205.29 L18.12,204.31 L17.54,203.42 L16.91,202.5 L16.95,201.45 L17.11,200.42 L17.24,199.38 L17.22,198.34 L17.11,197.29 L17.12,196.24 L17.32,195.21 L17.52,194.17 L17.49,193.13 L17.25,192.08 L17.2,191.03 L17.51,190 L17.69,188.96 L17.49,187.97 L16.94,187.02 L16.58,186.05 L16.75,185.02 L17.13,183.95 L17.05,182.95 L16.41,182.01 L15.86,181.06 L15.96,180.06 L16.38,178.89 L16.34,177.82 L15.6,176.88 L14.9,175.94 L14.93,174.85 L15.32,173.69 L15.24,172.62 L14.55,171.67 L13.95,170.71 L13.95,169.63 L14.2,168.49 L14.07,167.43 L13.53,166.52 L13.05,165.59 L12.93,164.59 L12.99,163.55 L12.88,162.54 L12.52,161.6 L12.13,160.65 L11.91,159.67 L11.84,158.66 L11.72,157.65 L11.46,156.68 L11.12,155.73 L10.86,154.76Z" fill="none" stroke="#222" stroke-width="2" stroke-linejoin="round"/>
<path d="M329,81.2 L330.8,79.4 L333.6,78.5 L335.2,79.6 L335,82 L333.6,84 L331.3,85.2 L329.4,84.2 Z" fill="#2b2b2b"/>
<rect x="563" y="96.00" width="26" height="49.75" fill="#A50026" shape-rendering="crispEdges"/>
<rect x="563" y="145.45" width="26" height="49.75" fill="#E34A33" shape-rendering="crispEdges"/>
<rect x="563" y="194.90" width="26" height="49.75" fill="#FCA55D" shape-rendering="crispEdges"/>
<rect x="563" y="244.35" width="26" height="49.75" fill="#FEE99D" shape-rendering="crispEdges"/>
<rect x="563" y="293.80" width="26" height="49.75" fill="#E9F6E8" shape-rendering="crispEdges"/>
<rect x="563" y="343.25" width="26" height="49.75" fill="#A3D3E6" shape-rendering="crispEdges"/>
<rect x="563" y="392.70" width="26" height="49.75" fill="#598DC0" shape-rendering="crispEdges"/>
<rect x="563" y="442.15" width="26" height="49.75" fill="#313695" shape-rendering="crispEdges"/>
<text x="601" y="101.60" font-size="14.5" fill="#000">4.5</text>
<text x="601" y="151.05" font-size="14.5" fill="#000">4</text>
<text x="601" y="200.50" font-size="14.5" fill="#000">3.5</text>
<text x="601" y="249.95" font-size="14.5" fill="#000">3</text>
<text x="601" y="299.40" font-size="14.5" fill="#000">2.5</text>
<text x="601" y="348.85" font-size="14.5" fill="#000">2</text>
<text x="601" y="398.30" font-size="14.5" fill="#000">1.5</text>
<text x="601" y="447.75" font-size="14.5" fill="#000">1</text>
<text x="601" y="497.20" font-size="14.5" fill="#000">0.5</text>
<text x="617.2" y="73.8" font-size="14" font-weight="bold" fill="#000">°C</text>
<g>
<path d="M7,4.5 L18.5,4.5 C24,8 28.5,15 29.5,24 C30,32 27,40 22.5,47 L21.5,53 L7,53 Z" fill="#0055FF"/>
<path d="M55.5,7.5 C49,9.5 43,16 41,24 C40,31 37,35 32,40 C28,44.5 26,48 25,53 L55.5,53 Z" fill="#0055FF"/>
<text x="5.2" y="70.4" font-size="20.3" fill="#0055FF" stroke="#0055FF" stroke-width="0.35" textLength="52.3" lengthAdjust="spacingAndGlyphs">IRM</text>
</g>
<text y="30.8" font-size="14" font-weight="bold" fill="#000" stroke="#000" stroke-width="0.2"><tspan x="80.6" textLength="87" lengthAdjust="spacingAndGlyphs">Température</tspan> <tspan x="173" textLength="74.2" lengthAdjust="spacingAndGlyphs">journalière</tspan> <tspan x="250.6" textLength="62.8" lengthAdjust="spacingAndGlyphs">minimale</tspan></text>
<text x="78.6" y="52" font-size="13" fill="#000" textLength="117.4" lengthAdjust="spacingAndGlyphs">moyenne mars 2026</text>
</svg>
</body></html>
